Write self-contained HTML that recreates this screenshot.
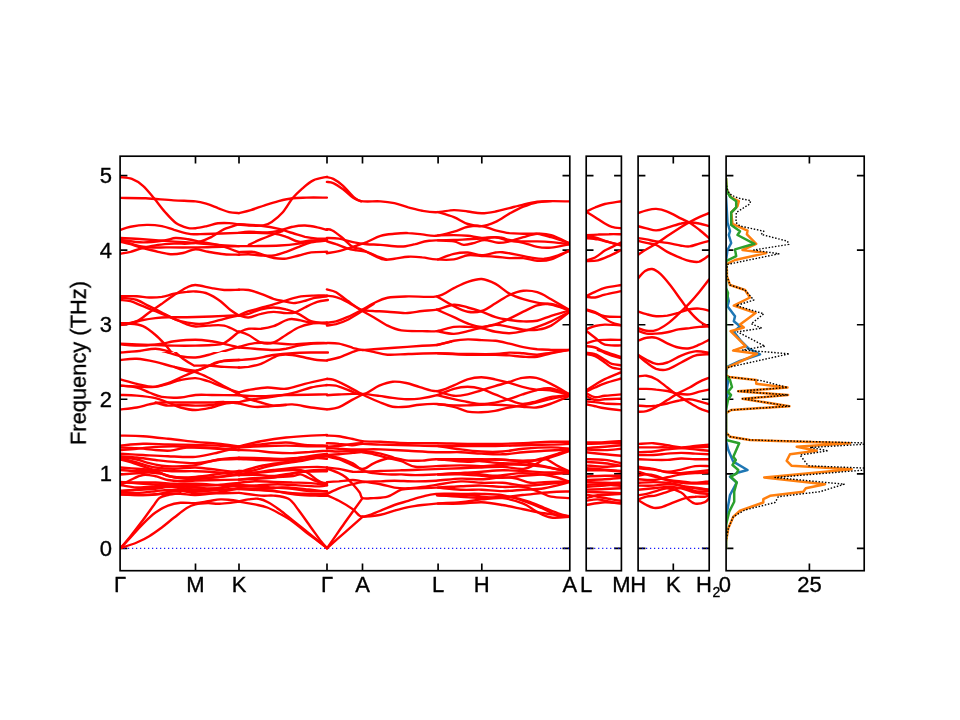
<!DOCTYPE html><html><head><meta charset="utf-8"><style>html,body{margin:0;padding:0;background:#fff;}svg{display:block;}text{font-family:"Liberation Sans",sans-serif;fill:#000;}svg text{will-change:transform;stroke:#000;stroke-width:0.35px;}</style></head><body>
<svg width="960" height="720" viewBox="0 0 960 720">
<rect width="960" height="720" fill="#fff"/>
<defs>
<clipPath id="p0"><rect x="120.1" y="156.2" width="449.7" height="414.5"/></clipPath>
<clipPath id="p1"><rect x="586.2" y="156.2" width="35.2" height="414.5"/></clipPath>
<clipPath id="p2"><rect x="638.1" y="156.2" width="71.1" height="414.5"/></clipPath>
<clipPath id="p3"><rect x="726.1" y="156.2" width="138.1" height="414.5"/></clipPath>
<clipPath id="cl"><rect x="120.1" y="156.2" width="324.9" height="414.5"/></clipPath>
<clipPath id="cr"><rect x="445.0" y="156.2" width="124.8" height="414.5"/></clipPath>
<clipPath id="r6"><rect x="120.1" y="156.2" width="449.7" height="195.8"/></clipPath>
<clipPath id="r7"><rect x="120.1" y="352.0" width="449.7" height="218.7"/></clipPath>
</defs>
<g stroke="#000" stroke-width="1.67"><path d="M120.10 548.40H127.40M569.80 548.40H562.50"/><path d="M120.10 473.84H127.40M569.80 473.84H562.50"/><path d="M120.10 399.28H127.40M569.80 399.28H562.50"/><path d="M120.10 324.72H127.40M569.80 324.72H562.50"/><path d="M120.10 250.16H127.40M569.80 250.16H562.50"/><path d="M120.10 175.60H127.40M569.80 175.60H562.50"/><path d="M586.20 548.40H593.50M621.40 548.40H614.10"/><path d="M586.20 473.84H593.50M621.40 473.84H614.10"/><path d="M586.20 399.28H593.50M621.40 399.28H614.10"/><path d="M586.20 324.72H593.50M621.40 324.72H614.10"/><path d="M586.20 250.16H593.50M621.40 250.16H614.10"/><path d="M586.20 175.60H593.50M621.40 175.60H614.10"/><path d="M638.10 548.40H645.40M709.20 548.40H701.90"/><path d="M638.10 473.84H645.40M709.20 473.84H701.90"/><path d="M638.10 399.28H645.40M709.20 399.28H701.90"/><path d="M638.10 324.72H645.40M709.20 324.72H701.90"/><path d="M638.10 250.16H645.40M709.20 250.16H701.90"/><path d="M638.10 175.60H645.40M709.20 175.60H701.90"/><path d="M726.10 548.40H733.40M864.20 548.40H856.90"/><path d="M726.10 473.84H733.40M864.20 473.84H856.90"/><path d="M726.10 399.28H733.40M864.20 399.28H856.90"/><path d="M726.10 324.72H733.40M864.20 324.72H856.90"/><path d="M726.10 250.16H733.40M864.20 250.16H856.90"/><path d="M726.10 175.60H733.40M864.20 175.60H856.90"/><path d="M195.50 156.20V163.50M195.50 570.70V563.40"/><path d="M239.00 156.20V163.50M239.00 570.70V563.40"/><path d="M327.00 156.20V163.50M327.00 570.70V563.40"/><path d="M362.50 156.20V163.50M362.50 570.70V563.40"/><path d="M438.10 156.20V163.50M438.10 570.70V563.40"/><path d="M481.80 156.20V163.50M481.80 570.70V563.40"/><path d="M673.30 156.20V163.50M673.30 570.70V563.40"/><path d="M809.40 156.20V163.50M809.40 570.70V563.40"/></g>
<line x1="120.1" y1="548.4" x2="569.8" y2="548.4" stroke="#0000ff" stroke-width="1.1" stroke-dasharray="1.1 2.9"/>
<line x1="586.2" y1="548.4" x2="621.4" y2="548.4" stroke="#0000ff" stroke-width="1.1" stroke-dasharray="1.1 2.9"/>
<line x1="638.1" y1="548.4" x2="709.2" y2="548.4" stroke="#0000ff" stroke-width="1.1" stroke-dasharray="1.1 2.9"/>
<g fill="none" stroke="#ff0000" stroke-width="2.40" stroke-linecap="round" stroke-linejoin="round">
<g clip-path="url(#p0)">
<path d="M120.1 177.2C122.1 177.5 128.1 177.5 131.9 178.9C135.7 180.3 139.3 182.6 143.0 185.8C146.7 189.1 150.4 193.9 154.1 198.3C157.8 202.7 161.5 208.1 165.2 212.2C168.9 216.4 172.6 220.7 176.3 223.3C180.0 225.9 184.2 227.0 187.4 227.8C190.6 228.6 192.3 228.5 195.5 228.2C198.7 227.9 203.1 226.9 206.9 226.1C210.6 225.3 214.3 223.8 218.0 223.3C221.7 222.8 225.6 222.9 229.1 223.1C232.6 223.3 237.4 224.3 239.0 224.5"/><path d="M120.1 197.9C124.4 198.0 136.9 197.9 145.8 198.3C154.7 198.8 165.3 199.9 173.6 200.4C181.8 200.9 189.9 200.8 195.5 201.4C201.1 202.0 203.1 202.8 206.9 203.9C210.6 205.0 214.3 206.7 218.0 208.1C221.7 209.4 225.6 211.4 229.1 212.2C232.6 213.1 237.4 213.0 239.0 213.1"/>
</g>
<g clip-path="url(#p0)">
<path d="M120.5 229.9C122.2 229.4 126.1 227.6 130.5 226.8C134.9 225.9 141.5 225.0 146.8 224.9C152.0 224.8 157.2 225.3 161.8 226.1C166.3 227.0 169.9 228.6 174.2 229.9C178.6 231.1 184.5 232.9 188.0 233.6C191.5 234.4 192.6 234.2 195.5 234.2C198.4 234.3 198.2 234.2 205.5 234.0C212.8 233.8 233.4 233.1 239.0 232.9"/><path d="M120.5 253.6C122.2 253.3 126.8 252.7 130.5 251.8C134.2 250.8 138.4 249.1 143.0 248.0C147.6 246.9 152.8 245.6 158.0 244.9C163.2 244.1 169.2 243.8 174.2 243.6C179.2 243.4 183.8 243.9 188.0 243.6C192.2 243.3 195.3 242.9 199.2 241.8C203.2 240.6 207.6 238.8 211.8 236.8C215.9 234.7 219.7 231.3 224.2 229.2C228.8 227.2 236.5 225.1 239.0 224.2"/><path d="M120.5 238.0C124.2 238.2 135.1 238.7 143.0 239.2C150.9 239.8 159.2 240.5 168.0 241.1C176.8 241.8 187.2 242.4 195.5 243.0C203.8 243.6 210.8 244.4 218.0 244.9C225.2 245.4 235.5 245.9 239.0 246.1"/><path d="M120.5 239.9C124.2 240.3 135.7 242.3 143.0 242.4C150.3 242.5 158.8 241.2 164.2 240.5C169.7 239.8 171.5 238.2 175.5 238.0C179.5 237.8 183.8 238.6 188.0 239.2C192.2 239.9 195.5 240.8 200.5 241.8C205.5 242.7 211.6 243.1 218.0 244.9C224.4 246.6 235.5 251.0 239.0 252.2"/><path d="M120.5 241.8C122.2 242.2 126.8 243.2 130.5 244.2C134.2 245.3 138.4 246.8 143.0 248.0C147.6 249.2 153.4 250.7 158.0 251.8C162.6 252.8 166.3 254.0 170.5 254.2C174.7 254.5 178.8 253.8 183.0 253.0C187.2 252.2 191.3 249.5 195.5 249.2C199.7 249.0 203.2 250.9 208.0 251.8C212.8 252.6 219.1 253.8 224.2 254.2C229.4 254.7 236.5 254.6 239.0 254.7"/><path d="M120.5 240.5C124.2 241.5 135.1 245.6 143.0 246.8C150.9 247.9 159.2 247.3 168.0 247.4C176.8 247.5 183.7 247.6 195.5 247.4C207.3 247.2 231.8 246.3 239.0 246.1"/>
</g>
<g clip-path="url(#p0)">
<path d="M239.0 213.1C241.0 212.6 246.5 211.4 250.8 210.1C255.1 208.8 260.1 206.8 264.7 205.3C269.4 203.8 274.0 202.3 278.6 201.1C283.2 200.0 287.9 198.9 292.5 198.3C297.1 197.8 300.6 197.8 306.4 197.6C312.1 197.5 323.5 197.6 326.9 197.6"/><path d="M239.0 224.5C241.0 224.7 246.8 225.4 250.8 225.6C254.9 225.7 259.9 226.0 263.3 225.4C266.8 224.8 268.4 224.1 271.7 221.9C274.9 219.7 279.3 216.2 282.8 212.2C286.2 208.3 289.3 202.3 292.5 198.3C295.7 194.4 298.8 191.6 302.2 188.6C305.7 185.6 309.2 182.2 313.3 180.3C317.5 178.3 324.7 177.4 326.9 176.8"/>
</g>
<g clip-path="url(#p0)">
<path d="M239.0 224.2C242.7 224.5 254.4 224.9 261.2 225.8C268.1 226.6 274.8 228.0 280.0 229.2C285.2 230.5 288.3 231.8 292.5 233.0C296.7 234.2 300.8 235.8 305.0 236.8C309.2 237.7 313.8 238.3 317.5 238.6C321.2 238.9 325.4 238.6 327.0 238.6"/><path d="M239.0 232.9C240.6 232.7 244.0 231.8 248.8 231.8C253.5 231.7 262.3 232.6 267.5 232.4C272.7 232.2 275.8 231.4 280.0 230.5C284.2 229.6 288.3 227.6 292.5 226.8C296.7 225.9 300.8 225.4 305.0 225.5C309.2 225.6 313.8 226.6 317.5 227.4C321.2 228.1 325.4 229.5 327.0 229.9"/><path d="M239.0 232.9C241.7 232.9 249.2 232.6 255.0 232.8C260.8 232.9 268.5 233.0 273.8 233.6C279.0 234.3 282.1 235.4 286.2 236.8C290.4 238.1 294.6 241.1 298.8 241.8C302.9 242.4 306.5 240.8 311.2 240.5C316.0 240.2 324.4 240.0 327.0 239.9"/><path d="M248.8 244.9C250.8 243.9 257.1 241.0 261.2 239.2C265.4 237.5 270.2 235.6 273.8 234.2C277.3 232.9 281.0 231.6 282.5 231.1"/><path d="M239.0 246.1C241.7 246.1 248.2 246.2 255.0 246.1C261.8 246.0 272.7 245.9 280.0 245.5C287.3 245.1 292.5 244.5 298.8 243.6C305.0 242.8 312.8 241.1 317.5 240.5C322.2 239.9 325.4 240.0 327.0 239.9"/><path d="M239.0 252.2C241.2 252.1 248.8 251.4 252.5 251.8C256.2 252.1 257.7 253.2 261.2 254.2C264.8 255.3 269.6 257.3 273.8 258.0C277.9 258.7 282.1 259.0 286.2 258.6C290.4 258.2 294.6 256.5 298.8 255.5C302.9 254.5 306.5 253.0 311.2 252.4C316.0 251.8 324.4 251.9 327.0 251.8"/><path d="M239.0 254.7C240.6 254.6 245.0 254.1 248.8 254.2C252.5 254.4 257.1 255.3 261.2 255.5C265.4 255.7 269.6 256.1 273.8 255.5C277.9 254.9 282.1 253.2 286.2 251.8C290.4 250.3 294.6 248.3 298.8 246.8C302.9 245.2 306.5 243.4 311.2 242.4C316.0 241.3 324.4 240.8 327.0 240.5"/>
</g>
<g clip-path="url(#r6)">
<path d="M120.5 325.0C123.2 324.4 132.0 323.3 136.8 321.2C141.5 319.2 145.1 315.4 149.2 312.5C153.4 309.6 157.6 306.7 161.8 303.8C165.9 300.8 170.1 297.7 174.2 295.0C178.4 292.3 183.2 289.2 186.8 287.5C190.3 285.8 191.3 284.9 195.5 285.0C199.7 285.1 207.0 287.3 211.8 288.1C216.5 289.0 219.7 289.7 224.2 290.0C228.8 290.3 236.5 289.7 239.0 289.7"/><path d="M120.5 296.2C123.2 296.2 132.0 296.0 136.8 296.2C141.5 296.5 145.1 297.4 149.2 297.5C153.4 297.6 157.6 297.5 161.8 296.9C165.9 296.2 170.1 294.6 174.2 293.8C178.4 292.9 183.2 292.2 186.8 291.9C190.3 291.5 192.0 291.2 195.5 291.5C199.0 291.8 203.8 292.1 208.0 293.8C212.2 295.4 216.8 298.5 220.5 301.2C224.2 304.0 227.4 307.6 230.5 310.0C233.6 312.4 237.6 314.7 239.0 315.6"/><path d="M120.5 300.0C122.2 300.2 126.8 300.2 130.5 301.2C134.2 302.3 138.8 304.6 143.0 306.2C147.2 307.9 151.3 309.6 155.5 311.2C159.7 312.9 163.8 314.6 168.0 316.2C172.2 317.9 175.9 320.0 180.5 321.2C185.1 322.5 190.9 323.4 195.5 323.8C200.1 324.1 203.2 324.0 208.0 323.1C212.8 322.3 219.1 320.1 224.2 318.8C229.4 317.4 236.5 315.9 239.0 315.3"/><path d="M120.5 297.5C123.2 297.9 132.0 298.5 136.8 300.0C141.5 301.5 145.1 304.2 149.2 306.2C153.4 308.3 157.6 310.4 161.8 312.5C165.9 314.6 170.1 316.8 174.2 318.8C178.4 320.7 183.2 323.1 186.8 324.4C190.3 325.7 192.0 326.3 195.5 326.5C199.0 326.7 203.2 325.8 208.0 325.6C212.8 325.5 219.1 324.5 224.2 325.6C229.4 326.7 236.5 331.1 239.0 332.2"/><path d="M120.5 323.1C122.2 323.1 126.8 323.6 130.5 323.1C134.2 322.6 138.8 320.8 143.0 320.0C147.2 319.2 151.3 318.6 155.5 318.1C159.7 317.7 163.8 317.4 168.0 317.2C172.2 317.1 175.9 317.3 180.5 317.2C185.1 317.2 190.3 317.1 195.5 317.0C200.7 316.9 204.5 316.8 211.8 316.5C219.0 316.2 234.5 315.4 239.0 315.2"/><path d="M120.5 325.0C122.2 324.8 126.8 323.5 130.5 323.8C134.2 324.0 138.8 324.4 143.0 326.2C147.2 328.1 151.8 331.9 155.5 335.0C159.2 338.1 162.4 341.7 165.5 345.0C168.6 348.3 170.7 351.9 174.2 355.0C177.8 358.1 183.2 361.9 186.8 363.8C190.3 365.6 191.3 365.8 195.5 366.2C199.7 366.7 204.5 366.0 211.8 366.2C219.0 366.5 234.5 367.3 239.0 367.5"/><path d="M120.5 343.8C123.2 343.9 130.9 344.2 136.8 344.4C142.6 344.6 149.2 344.8 155.5 345.0C161.8 345.2 167.6 345.5 174.2 345.6C180.9 345.7 189.2 345.7 195.5 345.6C201.8 345.5 207.0 345.4 211.8 345.0C216.5 344.6 219.7 345.4 224.2 343.1C228.8 340.9 236.5 333.5 239.0 331.6"/><path d="M120.5 344.4C124.2 344.6 136.1 345.7 143.0 345.6C149.9 345.5 156.5 344.5 161.8 343.8C167.0 343.0 168.6 341.9 174.2 341.2C179.9 340.6 189.2 339.8 195.5 339.8C201.8 339.8 207.0 340.6 211.8 341.2C216.5 341.9 219.7 342.7 224.2 343.8C228.8 344.8 236.5 346.9 239.0 347.5"/><path d="M120.5 352.5C123.2 352.3 130.9 351.9 136.8 351.2C142.6 350.6 150.3 348.8 155.5 348.8C160.7 348.8 163.8 350.2 168.0 351.2C172.2 352.3 175.9 354.0 180.5 355.0C185.1 356.0 190.3 357.5 195.5 357.5C200.7 357.5 207.0 356.0 211.8 355.0C216.5 354.0 219.7 352.6 224.2 351.2C228.8 349.9 236.5 347.6 239.0 346.9"/><path d="M120.5 360.0C123.2 359.8 130.9 358.5 136.8 358.8C142.6 359.0 150.3 360.4 155.5 361.2C160.7 362.1 163.8 362.7 168.0 363.8C172.2 364.8 175.9 366.4 180.5 367.5C185.1 368.6 190.3 370.0 195.5 370.6C200.7 371.2 204.7 370.9 211.8 371.2C218.8 371.6 233.6 372.3 238.0 372.5"/><path d="M195.5 371.2C197.2 370.4 201.8 367.9 205.5 366.2C209.2 364.6 212.4 362.3 218.0 361.2C223.6 360.2 235.5 360.2 239.0 360.0"/>
</g>
<g clip-path="url(#r7)">
<path d="M120.5 352.5C123.2 352.3 130.9 351.7 136.8 351.2C142.6 350.8 150.3 349.8 155.5 350.0C160.7 350.2 163.8 351.5 168.0 352.5C172.2 353.5 175.9 355.4 180.5 356.2C185.1 357.1 190.9 357.7 195.5 357.5C200.1 357.3 203.2 356.2 208.0 355.0C212.8 353.8 219.1 351.2 224.2 350.0C229.4 348.8 236.5 347.9 239.0 347.5"/><path d="M120.5 360.0C123.2 359.8 130.9 358.4 136.8 358.8C142.6 359.1 149.2 360.5 155.5 361.9C161.8 363.2 167.6 365.4 174.2 366.9C180.9 368.3 189.9 370.7 195.5 370.6C201.1 370.5 204.2 367.7 208.0 366.2C211.8 364.8 212.8 362.9 218.0 361.9C223.2 360.8 235.5 360.3 239.0 360.0"/><path d="M160.5 340.0C161.8 340.2 164.7 341.1 168.0 341.2C171.3 341.4 175.9 340.8 180.5 340.6C185.1 340.4 190.3 340.0 195.5 340.0C200.7 340.0 206.3 340.5 211.8 340.6C217.2 340.7 225.3 340.6 228.0 340.6"/><path d="M120.5 379.4C123.2 380.1 131.3 382.5 136.8 383.8C142.2 385.0 147.8 387.0 153.0 386.9C158.2 386.8 163.4 384.7 168.0 383.1C172.6 381.6 175.9 379.5 180.5 377.5C185.1 375.5 190.9 373.1 195.5 371.2C200.1 369.4 203.2 368.0 208.0 366.2C212.8 364.5 219.1 361.7 224.2 360.6C229.4 359.6 236.5 360.1 239.0 360.0"/><path d="M120.5 385.6C123.2 385.9 132.0 386.4 136.8 387.5C141.5 388.6 145.1 390.9 149.2 392.5C153.4 394.1 156.5 396.0 161.8 396.9C167.0 397.7 174.9 397.8 180.5 397.5C186.1 397.2 190.3 395.4 195.5 395.0C200.7 394.6 204.5 394.9 211.8 395.0C219.0 395.1 234.5 395.3 239.0 395.3"/><path d="M120.5 395.0C123.2 395.1 130.9 395.1 136.8 395.6C142.6 396.1 150.3 397.0 155.5 398.1C160.7 399.3 163.8 400.9 168.0 402.5C172.2 404.1 175.9 406.2 180.5 407.5C185.1 408.8 190.3 410.0 195.5 410.0C200.7 410.0 207.0 408.5 211.8 407.5C216.5 406.5 219.7 404.6 224.2 403.8C228.8 402.9 236.5 402.4 239.0 402.2"/><path d="M120.5 409.4C123.2 409.1 132.0 408.3 136.8 407.5C141.5 406.7 145.1 405.2 149.2 404.4C153.4 403.5 156.5 402.8 161.8 402.5C167.0 402.2 174.9 402.5 180.5 402.5C186.1 402.5 190.3 402.5 195.5 402.5C200.7 402.5 207.0 402.6 211.8 402.5C216.5 402.4 219.7 401.7 224.2 401.9C228.8 402.0 236.5 403.2 239.0 403.4"/><path d="M120.5 385.6C123.2 385.8 130.9 386.3 136.8 386.5C142.6 386.7 150.3 387.3 155.5 386.9C160.7 386.4 163.8 384.9 168.0 383.8C172.2 382.6 175.9 380.9 180.5 380.0C185.1 379.1 190.9 377.9 195.5 378.1C200.1 378.3 203.2 379.7 208.0 381.2C212.8 382.8 219.1 385.6 224.2 387.5C229.4 389.4 236.5 391.7 239.0 392.5"/><path d="M174.2 366.9C175.3 367.3 178.2 368.6 180.5 369.4C182.8 370.1 185.5 370.8 188.0 371.2C190.5 371.7 192.2 371.2 195.5 372.2C198.8 373.3 203.2 375.2 208.0 377.5C212.8 379.8 219.1 383.4 224.2 386.2C229.4 389.1 236.5 393.0 239.0 394.4"/><path d="M161.8 340.0C162.8 340.8 165.9 343.1 168.0 345.0C170.1 346.9 171.8 349.0 174.2 351.2C176.8 353.5 179.9 356.5 183.0 358.8C186.1 361.0 190.9 363.9 193.0 365.0C195.1 366.1 193.0 365.5 195.5 365.6C198.0 365.7 203.2 365.4 208.0 365.6C212.8 365.8 219.1 366.6 224.2 366.9C229.4 367.2 236.5 367.4 239.0 367.5"/><path d="M155.5 402.5C157.6 403.0 163.8 405.2 168.0 405.6C172.2 406.0 175.9 405.0 180.5 405.0C185.1 405.0 190.3 405.6 195.5 405.6C200.7 405.6 207.0 405.5 211.8 405.0C216.5 404.5 219.7 403.0 224.2 402.5C228.8 402.0 236.5 402.2 239.0 402.2"/>
</g>
<g clip-path="url(#p0)">
<path d="M120.5 435.6C124.2 435.7 135.1 435.7 143.0 436.2C150.9 436.8 159.2 437.8 168.0 438.8C176.8 439.7 187.2 441.0 195.5 441.9C203.8 442.7 210.8 443.0 218.0 443.8C225.2 444.5 235.5 446.0 239.0 446.4"/><path d="M120.5 445.6C124.2 445.3 135.1 444.0 143.0 443.8C150.9 443.5 159.2 444.2 168.0 444.4C176.8 444.6 187.2 444.8 195.5 445.0C203.8 445.2 210.8 445.2 218.0 445.6C225.2 446.0 235.5 447.2 239.0 447.5"/><path d="M120.5 447.5C123.2 447.6 130.9 447.7 136.8 448.1C142.6 448.5 149.9 449.6 155.5 450.0C161.1 450.4 165.3 451.0 170.5 450.6C175.7 450.2 180.9 448.0 186.8 447.5C192.6 447.0 196.8 447.1 205.5 447.5C214.2 447.9 233.4 449.6 239.0 450.0"/><path d="M120.5 450.0C123.2 449.8 130.9 449.3 136.8 448.8C142.6 448.2 149.2 447.3 155.5 446.9C161.8 446.5 167.6 446.1 174.2 446.2C180.9 446.4 188.2 447.1 195.5 447.5C202.8 447.9 210.8 448.3 218.0 448.8C225.2 449.2 235.5 449.8 239.0 450.0"/><path d="M120.5 453.8C124.2 454.0 135.1 454.6 143.0 455.0C150.9 455.4 159.2 455.9 168.0 456.2C176.8 456.6 187.2 457.5 195.5 456.9C203.8 456.2 210.8 454.2 218.0 452.5C225.2 450.8 235.5 447.8 239.0 446.9"/><path d="M120.5 456.2C123.2 456.5 130.9 456.9 136.8 457.5C142.6 458.1 149.2 459.3 155.5 460.0C161.8 460.7 167.6 461.4 174.2 461.9C180.9 462.4 188.2 463.4 195.5 463.1C202.8 462.8 210.8 460.7 218.0 460.0C225.2 459.3 235.5 459.2 239.0 459.1"/><path d="M120.5 458.1C123.2 458.9 130.9 460.9 136.8 462.5C142.6 464.1 149.2 466.5 155.5 467.5C161.8 468.5 167.6 468.8 174.2 468.8C180.9 468.8 188.2 467.3 195.5 467.5C202.8 467.7 210.8 469.2 218.0 470.0C225.2 470.8 235.5 472.1 239.0 472.5"/><path d="M120.5 467.5C123.2 467.7 130.9 468.3 136.8 468.8C142.6 469.2 149.2 469.6 155.5 470.0C161.8 470.4 167.6 471.0 174.2 471.2C180.9 471.5 188.2 471.0 195.5 471.2C202.8 471.5 210.8 471.8 218.0 472.5C225.2 473.2 235.5 474.7 239.0 475.2"/><path d="M120.5 470.0C123.2 470.2 130.9 471.0 136.8 471.2C142.6 471.5 150.3 470.4 155.5 471.2C160.7 472.1 163.8 475.2 168.0 476.2C172.2 477.3 175.9 477.4 180.5 477.5C185.1 477.6 190.3 477.3 195.5 476.9C200.7 476.5 204.5 476.0 211.8 475.0C219.0 474.0 234.5 471.6 239.0 470.9"/><path d="M120.5 485.0C122.2 484.2 126.8 481.7 130.5 480.0C134.2 478.3 138.8 475.6 143.0 475.0C147.2 474.4 151.3 475.4 155.5 476.2C159.7 477.1 163.8 479.2 168.0 480.0C172.2 480.8 175.9 481.1 180.5 481.2C185.1 481.4 189.2 480.8 195.5 480.6C201.8 480.4 210.8 480.2 218.0 480.0C225.2 479.8 235.5 479.6 239.0 479.6"/><path d="M120.5 482.5C123.2 482.5 130.9 482.5 136.8 482.5C142.6 482.5 149.2 482.3 155.5 482.5C161.8 482.7 167.6 483.5 174.2 483.8C180.9 484.0 188.2 483.5 195.5 483.8C202.8 484.0 210.8 484.6 218.0 485.0C225.2 485.4 235.5 486.1 239.0 486.3"/><path d="M120.5 485.0C123.2 485.4 130.9 487.3 136.8 487.5C142.6 487.7 150.3 486.7 155.5 486.2C160.7 485.8 163.8 484.8 168.0 485.0C172.2 485.2 175.9 486.7 180.5 487.5C185.1 488.3 190.3 489.6 195.5 490.0C200.7 490.4 204.5 490.1 211.8 490.0C219.0 489.9 234.5 489.3 239.0 489.1"/><path d="M120.5 491.2C123.2 491.0 130.9 490.4 136.8 490.0C142.6 489.6 150.3 489.3 155.5 488.8C160.7 488.2 163.8 487.3 168.0 486.9C172.2 486.5 175.9 486.1 180.5 486.2C185.1 486.4 189.2 487.2 195.5 487.5C201.8 487.8 210.8 488.9 218.0 488.1C225.2 487.4 235.5 483.8 239.0 482.9"/><path d="M120.5 494.4C124.2 494.5 136.1 495.1 143.0 495.0C149.9 494.9 155.5 494.0 161.8 493.8C168.0 493.5 174.9 493.5 180.5 493.8C186.1 494.0 189.2 495.2 195.5 495.0C201.8 494.8 210.8 493.6 218.0 492.5C225.2 491.4 235.5 489.0 239.0 488.3"/><path d="M120.5 492.5C123.2 492.6 130.9 493.3 136.8 493.1C142.6 492.9 150.3 491.8 155.5 491.2C160.7 490.7 163.8 490.2 168.0 490.0C172.2 489.8 175.9 489.8 180.5 490.0C185.1 490.2 189.2 491.2 195.5 491.2C201.8 491.2 210.8 490.5 218.0 490.0C225.2 489.5 235.5 488.4 239.0 488.1"/><path d="M120.5 457.0C123.2 457.4 132.0 458.5 136.8 459.5C141.5 460.5 145.1 462.2 149.2 463.2C153.4 464.3 157.6 465.2 161.8 465.8C165.9 466.3 168.6 466.5 174.2 466.4C179.9 466.3 188.2 466.3 195.5 465.1C202.8 464.0 210.8 460.8 218.0 459.5C225.2 458.2 235.5 457.9 239.0 457.6"/><path d="M120.5 459.5C122.2 459.9 126.8 460.9 130.5 462.0C134.2 463.1 138.8 464.9 143.0 466.4C147.2 467.8 151.3 469.2 155.5 470.8C159.7 472.3 163.8 474.5 168.0 475.8C172.2 477.0 175.9 477.7 180.5 478.2C185.1 478.8 189.2 479.1 195.5 478.9C201.8 478.7 210.8 477.8 218.0 477.0C225.2 476.2 235.5 474.3 239.0 473.8"/><path d="M120.5 474.5C123.2 474.3 132.0 473.6 136.8 473.2C141.5 472.9 145.1 472.5 149.2 472.6C153.4 472.7 157.6 473.1 161.8 473.9C165.9 474.6 168.6 476.3 174.2 477.0C179.9 477.7 188.2 478.2 195.5 478.2C202.8 478.2 210.8 477.6 218.0 477.0C225.2 476.4 235.5 475.1 239.0 474.8"/><path d="M120.5 482.0C123.2 482.2 130.9 482.8 136.8 483.2C142.6 483.7 149.2 484.1 155.5 484.5C161.8 484.9 167.6 485.5 174.2 485.8C180.9 486.0 188.2 485.9 195.5 485.8C202.8 485.6 210.8 485.6 218.0 485.1C225.2 484.6 235.5 483.2 239.0 482.9"/><path d="M120.5 494.5C123.2 494.6 130.9 495.1 136.8 495.1C142.6 495.1 150.3 495.0 155.5 494.5C160.7 494.0 163.8 492.6 168.0 492.0C172.2 491.4 175.9 490.5 180.5 490.8C185.1 491.0 189.2 492.8 195.5 493.2C201.8 493.7 210.8 493.3 218.0 493.2C225.2 493.2 235.5 492.9 239.0 492.9"/><path d="M120.5 490.8C123.2 490.5 130.9 490.1 136.8 489.5C142.6 488.9 150.3 487.5 155.5 487.0C160.7 486.5 163.8 486.2 168.0 486.4C172.2 486.6 175.9 487.7 180.5 488.2C185.1 488.8 189.2 489.5 195.5 489.5C201.8 489.5 210.8 489.0 218.0 488.2C225.2 487.5 235.5 485.3 239.0 484.8"/>
</g>
<g clip-path="url(#p0)">
<path d="M120.5 548.1C122.2 546.1 126.8 540.9 130.5 536.2C134.2 531.6 139.2 525.0 143.0 520.0C146.8 515.0 150.3 509.9 153.0 506.2C155.7 502.6 156.8 500.0 159.2 498.1C161.8 496.2 164.5 495.8 168.0 495.0C171.5 494.2 178.4 493.4 180.5 493.1"/><path d="M120.5 548.1C122.2 546.4 126.8 541.6 130.5 537.5C134.2 533.4 138.8 527.9 143.0 523.8C147.2 519.6 151.3 515.5 155.5 512.5C159.7 509.5 163.8 507.2 168.0 505.6C172.2 504.0 175.9 503.2 180.5 502.8C185.1 502.3 190.9 503.4 195.5 503.1C200.1 502.9 203.8 501.9 208.0 501.2C212.2 500.6 216.8 499.6 220.5 499.4C224.2 499.2 227.4 499.7 230.5 500.0C233.6 500.3 237.6 501.0 239.0 501.2"/><path d="M120.5 548.1C123.2 547.2 132.0 544.5 136.8 542.5C141.5 540.5 145.1 538.8 149.2 536.2C153.4 533.8 157.6 530.6 161.8 527.5C165.9 524.4 170.1 520.7 174.2 517.5C178.4 514.3 183.2 510.3 186.8 508.1C190.3 505.9 192.0 505.2 195.5 504.4C199.0 503.5 204.2 503.2 208.0 503.1C211.8 503.0 214.2 503.8 218.0 503.8C221.8 503.7 227.0 503.1 230.5 502.8C234.0 502.4 237.6 501.8 239.0 501.6"/>
</g>
<g clip-path="url(#p0)">
<path d="M239.0 289.7C240.6 289.7 244.8 289.3 248.5 290.0C252.2 290.7 256.8 292.3 261.0 293.8C265.2 295.2 269.8 297.5 273.5 298.8C277.2 300.0 280.2 300.5 283.5 301.2C286.8 302.0 290.2 303.1 293.5 303.1C296.8 303.1 300.2 302.1 303.5 301.2C306.8 300.4 309.6 299.0 313.5 298.1C317.4 297.3 324.8 296.6 327.0 296.2"/><path d="M239.0 315.2C240.6 314.5 243.8 312.7 248.5 311.2C253.2 309.8 261.4 307.9 267.2 306.2C273.1 304.6 278.3 302.8 283.5 301.2C288.7 299.7 293.5 297.8 298.5 296.9C303.5 295.9 308.8 295.8 313.5 295.6C318.2 295.4 324.8 295.6 327.0 295.6"/><path d="M239.0 315.3C240.6 315.7 244.8 317.8 248.5 317.5C252.2 317.2 256.8 314.7 261.0 313.8C265.2 312.8 269.3 312.0 273.5 311.9C277.7 311.8 282.5 313.0 286.0 313.1C289.5 313.2 291.6 313.4 294.8 312.5C297.9 311.6 301.0 309.3 304.8 307.5C308.5 305.7 313.4 303.1 317.2 301.9C321.1 300.6 326.1 300.3 327.9 300.0"/><path d="M239.0 315.6C240.6 315.3 244.8 314.8 248.5 313.8C252.2 312.7 256.8 310.4 261.0 309.4C265.2 308.3 269.3 307.5 273.5 307.5C277.7 307.5 281.8 308.3 286.0 309.4C290.2 310.4 294.3 311.8 298.5 313.8C302.7 315.7 306.2 319.6 311.0 321.2C315.8 322.9 324.3 323.3 327.0 323.8"/><path d="M239.0 332.2C240.6 331.6 244.8 329.3 248.5 328.8C252.2 328.2 256.8 329.2 261.0 328.8C265.2 328.3 268.9 327.8 273.5 326.2C278.1 324.7 284.3 320.4 288.5 319.4C292.7 318.3 294.8 319.5 298.5 320.0C302.2 320.5 306.2 322.0 311.0 322.5C315.8 323.0 324.3 323.0 327.0 323.1"/><path d="M239.0 331.6C240.6 332.1 244.8 333.2 248.5 335.0C252.2 336.8 256.8 341.2 261.0 342.5C265.2 343.8 269.3 343.8 273.5 342.5C277.7 341.2 281.8 337.5 286.0 335.0C290.2 332.5 294.3 329.4 298.5 327.5C302.7 325.6 306.2 324.6 311.0 323.8C315.8 322.9 324.3 322.7 327.0 322.5"/><path d="M239.0 346.9C241.6 346.2 249.0 343.8 254.8 343.1C260.5 342.5 267.2 342.9 273.5 343.1C279.8 343.3 286.0 344.4 292.2 344.4C298.5 344.4 305.2 343.3 311.0 343.1C316.8 342.9 324.3 343.1 327.0 343.1"/><path d="M239.0 347.5C241.6 347.7 249.0 348.3 254.8 348.8C260.5 349.2 268.3 350.0 273.5 350.0C278.7 350.0 281.8 349.5 286.0 348.8C290.2 348.0 294.3 346.5 298.5 345.6C302.7 344.8 306.2 344.2 311.0 343.8C315.8 343.3 324.3 343.2 327.0 343.1"/><path d="M239.0 360.0C241.6 359.8 249.0 359.6 254.8 358.8C260.5 357.9 267.2 355.9 273.5 355.0C279.8 354.1 286.0 353.5 292.2 353.1C298.5 352.7 305.1 352.6 311.0 352.5C316.9 352.4 325.1 352.5 327.9 352.5"/><path d="M239.0 367.5C240.6 367.4 244.8 367.5 248.5 366.9C252.2 366.2 256.8 365.3 261.0 363.8C265.2 362.2 270.4 359.0 273.5 357.5C276.6 356.0 276.6 355.4 279.8 355.0C282.9 354.6 288.1 354.6 292.2 355.0C296.4 355.4 300.6 356.7 304.8 357.5C308.9 358.3 313.5 359.5 317.2 360.0C321.0 360.5 325.4 360.5 327.0 360.6"/>
</g>
<g clip-path="url(#p0)">
<path d="M239.0 392.5C240.6 392.1 243.8 390.8 248.5 390.0C253.2 389.2 261.0 387.7 267.2 387.5C273.5 387.3 279.8 389.4 286.0 388.8C292.2 388.1 297.9 385.4 304.8 383.8C311.6 382.1 323.3 379.6 327.0 378.8"/><path d="M239.0 395.3C242.7 395.5 253.2 396.3 261.0 396.2C268.8 396.2 275.0 395.3 286.0 395.0C297.0 394.7 320.2 394.5 327.0 394.4"/><path d="M239.0 402.2C240.6 401.8 243.8 400.8 248.5 400.0C253.2 399.2 260.0 398.6 267.2 397.5C274.5 396.4 285.0 394.8 292.2 393.1C299.5 391.5 305.2 388.9 311.0 387.5C316.8 386.1 324.3 385.4 327.0 385.0"/><path d="M239.0 394.4C240.6 395.1 244.8 397.4 248.5 398.8C252.2 400.1 256.8 401.4 261.0 402.5C265.2 403.6 268.3 405.3 273.5 405.6C278.7 405.9 286.0 404.1 292.2 404.4C298.5 404.7 305.2 406.7 311.0 407.5C316.8 408.3 324.3 409.1 327.0 409.4"/><path d="M239.0 403.4C241.6 404.0 249.6 406.4 254.8 406.9C259.9 407.3 264.5 406.6 269.8 406.2C275.0 405.9 283.3 405.2 286.0 405.0"/>
</g>
<g clip-path="url(#p0)">
<path d="M239.0 446.4C242.7 445.6 253.2 442.7 261.0 441.2C268.8 439.8 277.7 438.4 286.0 437.5C294.3 436.6 304.2 436.0 311.0 435.6C317.8 435.2 324.3 435.1 327.0 435.0"/><path d="M239.0 446.9C242.7 446.5 253.2 445.1 261.0 444.4C268.8 443.6 278.7 442.4 286.0 442.5C293.3 442.6 297.9 444.5 304.8 445.0C311.6 445.5 323.3 445.5 327.0 445.6"/><path d="M239.0 447.5C242.7 447.3 253.2 446.6 261.0 446.2C268.8 445.9 277.7 445.6 286.0 445.6C294.3 445.6 304.2 446.1 311.0 446.2C317.8 446.4 324.3 446.2 327.0 446.2"/><path d="M239.0 450.0C241.6 450.1 249.0 450.2 254.8 450.6C260.5 451.0 267.2 452.1 273.5 452.5C279.8 452.9 286.0 453.2 292.2 453.1C298.5 453.0 305.2 452.3 311.0 451.9C316.8 451.5 324.3 450.8 327.0 450.6"/><path d="M239.0 457.6C242.7 457.7 253.2 457.9 261.0 458.1C268.8 458.3 277.7 459.0 286.0 458.8C294.3 458.5 304.2 457.4 311.0 456.9C317.8 456.4 324.3 455.8 327.0 455.6"/><path d="M239.0 459.1C242.7 459.2 253.2 459.8 261.0 460.0C268.8 460.2 278.7 460.5 286.0 460.0C293.3 459.5 297.9 457.9 304.8 456.9C311.6 455.8 323.3 454.3 327.0 453.8"/><path d="M239.0 472.5C241.6 471.7 249.0 469.0 254.8 467.5C260.5 466.0 267.2 464.8 273.5 463.8C279.8 462.7 287.0 462.0 292.2 461.2C297.5 460.5 300.6 459.9 304.8 459.4C308.9 458.9 313.5 458.2 317.2 458.1C321.0 458.0 325.4 458.6 327.0 458.8"/><path d="M239.0 473.8C241.6 473.6 249.0 473.1 254.8 472.5C260.5 471.9 266.2 470.8 273.5 470.0C280.8 469.2 291.2 468.0 298.5 467.5C305.8 467.0 312.5 466.9 317.2 466.9C322.0 466.9 325.4 467.4 327.0 467.5"/><path d="M239.0 474.8C241.6 474.5 249.0 473.7 254.8 473.1C260.5 472.5 267.2 471.8 273.5 471.2C279.8 470.7 287.0 470.0 292.2 470.0C297.5 470.0 300.6 469.6 304.8 471.2C308.9 472.9 313.5 477.7 317.2 480.0C321.0 482.3 325.4 484.2 327.0 485.0"/><path d="M239.0 479.6C241.6 479.4 249.0 479.1 254.8 478.8C260.5 478.4 267.2 478.3 273.5 477.5C279.8 476.7 287.0 474.8 292.2 473.8C297.5 472.7 300.6 471.9 304.8 471.2C308.9 470.6 313.5 470.2 317.2 470.0C321.0 469.8 325.4 470.0 327.0 470.0"/><path d="M239.0 482.9C241.6 482.6 249.0 481.4 254.8 481.2C260.5 481.1 267.2 481.7 273.5 481.9C279.8 482.1 286.0 482.3 292.2 482.5C298.5 482.7 305.2 482.7 311.0 483.1C316.8 483.5 324.3 484.7 327.0 485.0"/><path d="M239.0 484.8C241.6 485.0 249.0 485.8 254.8 486.2C260.5 486.7 267.2 487.1 273.5 487.5C279.8 487.9 286.0 488.1 292.2 488.8C298.5 489.4 305.2 490.8 311.0 491.2C316.8 491.7 324.3 491.2 327.0 491.2"/><path d="M239.0 488.1C242.7 488.4 253.2 489.3 261.0 490.0C268.8 490.7 278.7 491.9 286.0 492.5C293.3 493.1 297.9 493.5 304.8 493.8C311.6 494.0 323.3 493.8 327.0 493.8"/><path d="M239.0 470.9C241.1 470.9 246.9 471.5 251.6 470.8C256.3 470.0 262.0 467.8 267.2 466.6C272.5 465.4 277.7 464.4 282.9 463.5C288.1 462.6 293.3 462.2 298.5 461.4C303.7 460.5 309.4 459.1 314.1 458.2C318.9 457.4 324.9 456.5 327.0 456.1"/><path d="M239.0 475.2C242.0 475.1 251.3 474.7 256.9 474.9C262.5 475.0 267.3 476.2 272.5 476.0C277.7 475.8 282.9 474.6 288.1 473.9C293.3 473.2 297.3 472.2 303.8 471.8C310.2 471.3 323.1 471.3 327.0 471.2"/><path d="M239.0 479.6C242.0 479.3 250.4 478.4 256.9 478.0C263.3 477.6 271.6 477.3 277.6 477.0C283.7 476.7 289.4 476.4 293.2 476.0C297.1 475.6 298.0 474.0 300.6 474.4C303.2 474.7 305.8 476.7 308.9 478.0C312.0 479.3 316.4 481.4 319.4 482.2C322.4 483.1 325.7 483.1 327.0 483.2"/><path d="M239.0 486.3C242.0 486.2 250.4 485.7 256.9 485.4C263.3 485.0 270.7 484.2 277.6 484.2C284.6 484.2 291.5 485.0 298.5 485.4C305.5 485.7 314.6 486.4 319.4 486.4C324.1 486.4 325.7 485.5 327.0 485.4"/><path d="M239.0 488.3C242.0 488.3 250.4 488.6 256.9 488.5C263.3 488.4 272.4 488.1 277.6 487.9C282.8 487.7 282.9 487.1 288.1 487.4C293.3 487.6 302.4 488.8 308.9 489.5C315.4 490.2 324.0 491.3 327.0 491.6"/><path d="M239.0 489.1C242.0 489.3 251.3 489.8 256.9 490.0C262.5 490.2 268.2 490.1 272.5 490.5C276.8 490.9 278.5 491.9 282.9 492.6C287.2 493.3 292.4 494.2 298.5 494.8C304.6 495.3 314.6 495.6 319.4 495.8C324.1 495.9 325.7 495.8 327.0 495.8"/>
</g>
<g clip-path="url(#p0)">
<path d="M239.0 501.2C240.6 500.9 245.2 499.8 248.5 499.4C251.8 499.0 255.2 498.2 258.5 498.8C261.8 499.3 265.0 500.6 268.5 502.5C272.0 504.4 275.8 507.1 279.8 510.0C283.7 512.9 288.1 516.7 292.2 520.0C296.4 523.3 300.6 526.7 304.8 530.0C308.9 533.3 313.5 537.0 317.2 540.0C321.0 543.0 325.4 546.8 327.0 548.1"/><path d="M239.0 501.6C241.6 502.0 250.0 503.4 254.8 504.4C259.5 505.4 263.1 505.9 267.2 507.5C271.4 509.1 275.6 511.5 279.8 513.8C283.9 516.0 288.1 518.3 292.2 521.2C296.4 524.2 300.6 528.0 304.8 531.2C308.9 534.5 313.5 537.8 317.2 540.6C321.0 543.4 325.4 546.9 327.0 548.1"/><path d="M239.0 492.9C242.7 493.3 255.2 495.2 261.0 495.6C266.8 496.1 268.9 495.1 273.5 495.6C278.1 496.1 284.3 496.4 288.5 498.8C292.7 501.1 294.8 505.2 298.5 510.0C302.2 514.8 307.2 522.3 311.0 527.5C314.8 532.7 318.3 537.8 321.0 541.2C323.7 544.7 326.0 547.0 327.0 548.1"/>
</g>
<g clip-path="url(#p1)"><path d="M586.1 211.7C587.6 211.0 592.0 208.8 595.1 207.5C598.2 206.2 600.4 205.1 604.8 204.0C609.2 203.0 618.7 201.7 621.5 201.2"/><path d="M586.1 211.7C587.6 212.6 592.0 215.3 595.1 217.2C598.2 219.2 602.1 221.9 604.8 223.5C607.6 225.1 609.0 226.1 611.8 226.9C614.6 227.8 619.9 228.1 621.5 228.3"/><path d="M586.1 235.3C588.1 235.2 594.1 234.8 597.9 234.6C601.7 234.4 605.1 234.2 609.0 234.2C612.9 234.1 619.4 234.2 621.5 234.2"/><path d="M586.1 236.7C587.6 236.8 592.0 236.7 595.1 237.4C598.2 238.1 602.1 239.9 604.8 240.8C607.6 241.8 609.0 242.2 611.8 242.9C614.6 243.6 619.9 244.7 621.5 245.0"/><path d="M586.1 238.1C588.1 238.3 594.1 238.8 597.9 239.4C601.7 240.1 605.1 241.2 609.0 242.2C612.9 243.3 619.4 245.1 621.5 245.7"/><path d="M586.1 260.3C587.6 259.8 592.0 259.1 595.1 257.5C598.2 255.9 602.1 252.3 604.8 250.6C607.6 248.8 609.0 248.5 611.8 247.1C614.6 245.7 619.9 243.0 621.5 242.2"/><path d="M586.1 261.0C588.1 260.9 594.1 261.1 597.9 260.3C601.7 259.5 605.1 257.8 609.0 256.1C612.9 254.4 619.4 250.9 621.5 249.9"/></g>
<g clip-path="url(#p2)"><path d="M638.2 213.1C639.6 212.6 643.5 211.0 646.5 210.3C649.5 209.6 652.8 208.7 656.2 208.9C659.7 209.1 663.2 210.0 667.3 211.7C671.5 213.3 677.5 216.8 681.2 218.6C684.9 220.5 686.5 220.9 689.6 222.8C692.6 224.6 696.0 227.2 699.3 229.7C702.5 232.3 707.4 236.7 709.0 238.1"/><path d="M638.2 226.2C639.6 226.6 643.5 227.6 646.5 228.3C649.5 229.0 652.8 230.5 656.2 230.4C659.7 230.3 663.2 228.8 667.3 227.6C671.5 226.5 677.5 224.3 681.2 223.5C684.9 222.6 686.5 222.5 689.6 222.5C692.6 222.5 696.0 222.8 699.3 223.5C702.5 224.1 707.4 225.8 709.0 226.2"/><path d="M638.2 238.1C639.6 238.3 643.5 238.9 646.5 239.4C649.5 240.0 652.8 240.9 656.2 241.5C659.7 242.1 663.2 242.2 667.3 242.9C671.5 243.6 677.5 245.1 681.2 245.7C684.9 246.3 686.5 246.7 689.6 246.4C692.6 246.0 696.0 244.5 699.3 243.6C702.5 242.7 707.4 241.3 709.0 240.8"/><path d="M638.2 240.8C639.6 241.2 643.5 242.2 646.5 242.9C649.5 243.6 652.8 243.5 656.2 245.0C659.7 246.5 663.2 249.7 667.3 251.9C671.5 254.1 677.5 256.7 681.2 258.2C684.9 259.7 686.5 260.4 689.6 261.0C692.6 261.6 696.0 262.6 699.3 261.7C702.5 260.7 707.4 256.5 709.0 255.4"/><path d="M638.2 254.7C639.6 253.8 643.5 251.0 646.5 249.2C649.5 247.3 652.8 245.8 656.2 243.6C659.7 241.4 663.2 238.8 667.3 236.0C671.5 233.2 677.5 229.3 681.2 226.9C684.9 224.6 686.5 223.7 689.6 222.1C692.6 220.5 696.0 218.7 699.3 217.2C702.5 215.7 707.4 213.8 709.0 213.1"/></g>
<g clip-path="url(#p1)"><path d="M586.1 296.1C587.6 295.4 592.0 293.3 595.1 291.9C598.2 290.6 600.4 288.9 604.8 287.8C609.2 286.6 618.7 285.5 621.5 285.0"/><path d="M586.1 296.8C587.6 296.9 592.0 297.8 595.1 297.5C598.2 297.2 600.4 295.8 604.8 294.7C609.2 293.7 618.7 291.8 621.5 291.2"/><path d="M586.1 310.0C587.6 310.5 592.0 311.7 595.1 312.8C598.2 313.8 600.4 315.6 604.8 316.2C609.2 316.9 618.7 316.8 621.5 316.9"/><path d="M586.1 309.3C587.6 309.8 592.0 310.6 595.1 312.1C598.2 313.6 602.1 316.6 604.8 318.3C607.6 320.1 609.0 321.3 611.8 322.5C614.6 323.7 619.9 324.8 621.5 325.3"/><path d="M586.1 329.4C587.6 328.9 592.0 326.8 595.1 326.0C598.2 325.2 600.4 324.7 604.8 324.6C609.2 324.5 618.7 325.2 621.5 325.3"/><path d="M586.1 330.8C587.6 332.0 592.0 335.5 595.1 337.8C598.2 340.1 600.4 343.4 604.8 344.7C609.2 346.0 618.7 345.3 621.5 345.4"/><path d="M586.1 343.3C587.6 342.9 592.0 341.1 595.1 340.6C598.2 340.0 600.4 340.0 604.8 339.9C609.2 339.7 618.7 339.9 621.5 339.9"/><path d="M586.1 346.1C587.6 346.3 592.0 346.6 595.1 347.5C598.2 348.4 600.4 350.0 604.8 351.7C609.2 353.3 618.7 356.3 621.5 357.2"/></g>
<g clip-path="url(#p2)"><path d="M638.2 278.1C639.3 276.9 642.8 272.6 645.1 271.1C647.4 269.6 649.5 268.6 652.1 269.0C654.6 269.5 657.4 271.2 660.4 273.9C663.4 276.6 666.6 280.6 670.1 285.0C673.6 289.4 678.0 295.9 681.2 300.3C684.5 304.7 686.5 307.9 689.6 311.4C692.6 314.9 696.0 318.6 699.3 321.1C702.5 323.7 707.4 325.7 709.0 326.7"/><path d="M638.2 311.4C639.6 311.9 643.5 313.4 646.5 314.2C649.5 315.0 652.8 316.0 656.2 316.2C659.7 316.5 663.6 316.1 667.3 315.6C671.0 315.0 674.7 313.8 678.4 312.8C682.1 311.7 686.1 310.0 689.6 309.3C693.0 308.6 696.0 308.4 699.3 308.6C702.5 308.8 707.4 310.3 709.0 310.7"/><path d="M638.2 330.8C639.6 331.3 643.5 333.1 646.5 333.6C649.5 334.1 652.8 333.8 656.2 333.6C659.7 333.4 663.6 332.9 667.3 332.2C671.0 331.5 674.7 330.1 678.4 329.4C682.1 328.8 686.1 328.5 689.6 328.1C693.0 327.6 696.0 327.2 699.3 326.9C702.5 326.7 707.4 326.5 709.0 326.4"/><path d="M638.2 328.1C639.6 328.5 643.5 330.5 646.5 330.8C649.5 331.2 652.8 331.3 656.2 330.1C659.7 329.0 663.6 326.6 667.3 323.9C671.0 321.2 674.7 317.6 678.4 314.2C682.1 310.7 686.1 306.8 689.6 303.1C693.0 299.4 696.0 295.9 699.3 291.9C702.5 288.0 707.4 281.5 709.0 279.4"/><path d="M638.2 340.6C639.6 340.1 643.5 338.2 646.5 337.8C649.5 337.3 652.8 336.9 656.2 337.8C659.7 338.7 663.6 341.7 667.3 343.3C671.0 345.0 674.7 346.7 678.4 347.5C682.1 348.3 686.1 348.7 689.6 348.2C693.0 347.7 696.0 346.1 699.3 344.7C702.5 343.3 707.4 340.7 709.0 339.9"/></g>
<g clip-path="url(#p1)"><path d="M586.1 352.8C587.6 353.0 592.0 353.0 595.1 354.2C598.2 355.3 602.1 358.1 604.8 359.7C607.6 361.3 609.0 363.0 611.8 363.9C614.6 364.8 619.9 365.0 621.5 365.3"/><path d="M586.1 354.2C587.6 354.5 592.0 354.9 595.1 356.2C598.2 357.6 602.1 360.6 604.8 362.5C607.6 364.4 609.0 366.2 611.8 367.4C614.6 368.5 619.9 369.1 621.5 369.4"/><path d="M597.9 350.0C599.0 350.5 602.5 351.9 604.8 352.8C607.1 353.7 609.0 354.6 611.8 355.6C614.6 356.5 619.9 357.9 621.5 358.3"/><path d="M586.1 390.3C587.6 389.4 592.0 386.6 595.1 384.7C598.2 382.9 600.4 381.2 604.8 379.2C609.2 377.1 618.7 373.4 621.5 372.2"/><path d="M586.1 391.7C587.6 391.0 592.0 388.9 595.1 387.5C598.2 386.1 600.4 384.8 604.8 383.3C609.2 381.8 618.7 379.3 621.5 378.5"/><path d="M586.1 393.1C587.6 393.8 592.0 396.8 595.1 397.2C598.2 397.7 600.4 396.3 604.8 395.8C609.2 395.4 618.7 394.7 621.5 394.4"/><path d="M586.1 395.8C587.6 396.5 592.0 399.4 595.1 400.0C598.2 400.6 600.4 399.5 604.8 399.3C609.2 399.1 618.7 398.7 621.5 398.6"/><path d="M586.1 401.4C587.6 401.5 592.0 401.7 595.1 402.1C598.2 402.4 600.4 403.1 604.8 403.5C609.2 403.8 618.7 404.1 621.5 404.2"/><path d="M586.1 404.2C587.6 404.5 592.0 405.6 595.1 406.2C598.2 406.9 600.4 407.6 604.8 408.3C609.2 409.0 618.7 410.1 621.5 410.4"/></g>
<g clip-path="url(#p2)"><path d="M638.2 354.9C639.6 355.7 643.5 358.2 646.5 359.7C649.5 361.2 652.8 363.4 656.2 363.9C659.7 364.4 663.2 363.9 667.3 362.5C671.5 361.1 676.6 357.4 681.2 355.6C685.9 353.7 690.5 351.9 695.1 351.4C699.7 350.9 706.7 352.5 709.0 352.8"/><path d="M638.2 355.6C639.6 356.7 643.5 360.3 646.5 362.5C649.5 364.7 652.8 367.6 656.2 368.8C659.7 369.9 663.2 370.5 667.3 369.4C671.5 368.4 676.6 364.8 681.2 362.5C685.9 360.2 690.5 356.9 695.1 355.6C699.7 354.2 706.7 354.4 709.0 354.2"/><path d="M638.2 376.4C639.6 376.3 643.5 375.2 646.5 375.7C649.5 376.2 652.8 377.2 656.2 379.2C659.7 381.1 663.6 384.7 667.3 387.5C671.0 390.3 674.7 393.3 678.4 395.8C682.1 398.4 686.1 400.7 689.6 402.8C693.0 404.9 696.0 406.8 699.3 408.3C702.5 409.8 707.4 411.2 709.0 411.8"/><path d="M638.2 388.9C639.6 388.9 643.5 388.8 646.5 388.9C649.5 389.0 652.8 389.2 656.2 389.6C659.7 389.9 663.6 390.3 667.3 391.0C671.0 391.7 674.7 393.2 678.4 393.8C682.1 394.3 686.1 394.8 689.6 394.4C693.0 394.1 696.0 392.5 699.3 391.7C702.5 390.9 707.4 389.9 709.0 389.6"/><path d="M638.2 405.6C639.6 405.7 643.5 406.2 646.5 406.2C649.5 406.2 652.8 406.0 656.2 405.6C659.7 405.1 663.6 404.3 667.3 403.5C671.0 402.7 674.7 401.4 678.4 400.7C682.1 400.0 686.1 399.2 689.6 399.3C693.0 399.4 696.0 400.6 699.3 401.4C702.5 402.2 707.4 403.7 709.0 404.2"/><path d="M638.2 411.8C639.6 411.7 643.5 411.9 646.5 411.1C649.5 410.3 652.8 408.8 656.2 406.9C659.7 405.1 663.6 402.3 667.3 400.0C671.0 397.7 674.7 395.1 678.4 393.1C682.1 391.0 686.1 389.4 689.6 387.5C693.0 385.6 696.0 383.6 699.3 381.9C702.5 380.3 707.4 378.5 709.0 377.8"/></g>
<g clip-path="url(#p1)"><path d="M586.1 442.5C589.2 442.5 598.9 442.5 604.8 442.2C610.7 442.0 618.7 441.3 621.5 441.1"/><path d="M586.1 443.9C589.2 443.8 598.9 443.3 604.8 443.2C610.7 443.1 618.7 443.2 621.5 443.2"/><path d="M586.1 448.1C589.2 447.8 598.9 447.1 604.8 446.7C610.7 446.2 618.7 445.5 621.5 445.3"/><path d="M586.1 449.4C589.2 449.6 598.9 450.3 604.8 450.1C610.7 450.0 618.7 449.0 621.5 448.8"/><path d="M586.1 452.2C589.2 452.6 598.9 453.7 604.8 454.3C610.7 454.9 618.7 455.5 621.5 455.7"/><path d="M586.1 459.2C589.2 459.3 598.9 459.2 604.8 459.9C610.7 460.6 618.7 462.8 621.5 463.3"/><path d="M586.1 461.9C589.2 462.2 598.9 462.6 604.8 463.3C610.7 464.0 618.7 465.6 621.5 466.1"/><path d="M586.1 465.4C589.2 465.6 598.9 466.8 604.8 466.8C610.7 466.8 618.7 465.6 621.5 465.4"/><path d="M586.1 468.2C589.2 468.4 598.9 469.1 604.8 469.6C610.7 470.0 618.7 470.7 621.5 471.0"/><path d="M586.1 470.3C589.2 470.3 598.9 470.0 604.8 470.3C610.7 470.5 618.7 471.4 621.5 471.7"/><path d="M586.1 476.5C589.2 476.4 598.9 475.9 604.8 475.8C610.7 475.7 618.7 475.8 621.5 475.8"/><path d="M586.1 480.0C589.2 479.9 598.9 479.7 604.8 479.3C610.7 479.0 618.7 478.1 621.5 477.9"/><path d="M586.1 482.1C589.2 482.2 598.9 482.7 604.8 482.8C610.7 482.9 618.7 482.8 621.5 482.8"/><path d="M586.1 484.9C589.2 484.7 598.9 483.9 604.8 484.2C610.7 484.4 618.7 485.9 621.5 486.2"/><path d="M586.1 486.9C589.2 486.7 598.9 486.1 604.8 485.6C610.7 485.0 618.7 483.8 621.5 483.5"/><path d="M586.1 489.7C589.2 489.6 598.9 489.3 604.8 489.0C610.7 488.8 618.7 488.4 621.5 488.3"/><path d="M586.1 491.8C589.2 491.9 598.9 492.3 604.8 492.5C610.7 492.7 618.7 493.1 621.5 493.2"/><path d="M586.1 494.6C588.1 494.9 593.6 495.9 597.9 496.7C602.2 497.5 607.8 498.8 611.8 499.4C615.7 500.1 619.9 500.6 621.5 500.8"/><path d="M586.1 498.1C588.1 497.6 593.6 495.9 597.9 495.3C602.2 494.7 607.8 494.8 611.8 494.6C615.7 494.4 619.9 494.0 621.5 493.9"/><path d="M586.1 500.8C588.1 500.6 593.6 499.2 597.9 499.4C602.2 499.7 607.8 501.6 611.8 502.2C615.7 502.8 619.9 502.8 621.5 502.9"/><path d="M586.1 505.0C589.2 504.5 598.9 502.5 604.8 502.2C610.7 502.0 618.7 503.4 621.5 503.6"/></g>
<g clip-path="url(#p2)"><path d="M638.2 443.9C640.7 443.8 648.6 443.0 653.4 443.2C658.3 443.4 662.7 444.6 667.3 445.3C672.0 446.0 676.6 447.2 681.2 447.4C685.9 447.5 690.5 446.4 695.1 446.0C699.7 445.5 706.7 444.8 709.0 444.6"/><path d="M638.2 447.4C640.7 447.4 648.6 447.4 653.4 447.4C658.3 447.4 662.7 447.2 667.3 447.4C672.0 447.5 676.6 447.7 681.2 448.1C685.9 448.4 690.5 449.0 695.1 449.4C699.7 449.9 706.7 450.6 709.0 450.8"/><path d="M638.2 452.2C640.7 452.1 648.6 452.0 653.4 451.5C658.3 451.1 662.7 450.0 667.3 449.4C672.0 448.9 676.6 448.4 681.2 448.1C685.9 447.7 690.5 447.6 695.1 447.4C699.7 447.1 706.7 446.8 709.0 446.7"/><path d="M638.2 455.0C640.7 455.0 648.6 455.2 653.4 455.0C658.3 454.8 662.7 454.0 667.3 453.6C672.0 453.3 676.6 452.9 681.2 452.9C685.9 452.9 690.5 453.4 695.1 453.6C699.7 453.8 706.7 454.2 709.0 454.3"/><path d="M638.2 459.2C640.7 459.3 648.6 459.7 653.4 459.9C658.3 460.0 662.7 460.1 667.3 459.9C672.0 459.6 676.6 458.6 681.2 458.5C685.9 458.4 690.5 459.1 695.1 459.2C699.7 459.3 706.7 459.2 709.0 459.2"/><path d="M638.2 466.8C640.7 467.2 648.6 468.0 653.4 468.9C658.3 469.8 662.7 471.7 667.3 472.4C672.0 473.1 676.6 473.2 681.2 473.1C685.9 472.9 690.5 472.1 695.1 471.7C699.7 471.2 706.7 470.5 709.0 470.3"/><path d="M638.2 468.2C640.7 468.4 648.6 469.0 653.4 469.6C658.3 470.2 662.7 471.7 667.3 471.7C672.0 471.7 676.6 470.5 681.2 469.6C685.9 468.7 690.5 466.7 695.1 466.1C699.7 465.5 706.7 466.1 709.0 466.1"/><path d="M638.2 471.7C639.6 472.1 643.5 473.5 646.5 474.4C649.5 475.4 652.8 476.3 656.2 477.2C659.7 478.1 663.2 479.3 667.3 480.0C671.5 480.7 676.6 480.9 681.2 481.4C685.9 481.9 690.5 482.8 695.1 482.8C699.7 482.8 706.7 481.6 709.0 481.4"/><path d="M638.2 475.8C639.6 475.6 643.5 474.4 646.5 474.4C649.5 474.4 652.8 474.9 656.2 475.8C659.7 476.8 663.2 478.8 667.3 480.0C671.5 481.2 676.6 482.2 681.2 482.8C685.9 483.4 690.5 483.4 695.1 483.5C699.7 483.6 706.7 483.5 709.0 483.5"/><path d="M638.2 479.3C640.7 479.4 648.6 480.3 653.4 480.0C658.3 479.7 662.7 478.1 667.3 477.2C672.0 476.3 676.6 475.1 681.2 474.4C685.9 473.8 690.5 473.4 695.1 473.1C699.7 472.7 706.7 472.5 709.0 472.4"/><path d="M638.2 482.8C640.7 482.7 648.6 482.1 653.4 482.1C658.3 482.1 662.7 482.2 667.3 482.8C672.0 483.4 676.6 484.6 681.2 485.6C685.9 486.5 690.5 487.6 695.1 488.3C699.7 489.0 706.7 489.5 709.0 489.7"/><path d="M638.2 485.6C640.7 485.6 648.6 485.8 653.4 485.6C658.3 485.3 662.7 484.2 667.3 484.2C672.0 484.2 676.6 484.4 681.2 485.6C685.9 486.7 690.5 490.2 695.1 491.1C699.7 492.0 706.7 491.1 709.0 491.1"/><path d="M638.2 489.7C640.7 489.5 648.6 488.8 653.4 488.3C658.3 487.9 662.7 486.9 667.3 486.9C672.0 486.9 676.6 487.4 681.2 488.3C685.9 489.3 690.5 491.6 695.1 492.5C699.7 493.4 706.7 493.7 709.0 493.9"/><path d="M638.2 495.3C639.6 495.0 643.5 494.6 646.5 493.9C649.5 493.2 652.8 492.0 656.2 491.1C659.7 490.2 663.2 488.1 667.3 488.3C671.5 488.6 677.8 490.6 681.2 492.5C684.7 494.4 685.9 497.6 688.2 499.4C690.5 501.3 692.3 503.1 695.1 503.6C697.9 504.1 702.5 503.1 704.8 502.2C707.1 501.3 708.3 498.8 709.0 498.1"/><path d="M638.2 499.4C639.6 499.0 643.5 497.4 646.5 496.7C649.5 496.0 652.8 496.1 656.2 495.3C659.7 494.5 663.6 493.0 667.3 491.8C671.0 490.6 675.0 489.1 678.4 488.3C681.9 487.5 684.7 486.9 688.2 486.9C691.6 486.9 695.8 487.9 699.3 488.3C702.8 488.8 707.4 489.5 709.0 489.7"/><path d="M638.2 500.1C639.6 500.9 644.0 503.7 646.5 505.0C649.0 506.3 650.9 507.4 653.4 507.8C656.0 508.1 658.3 508.0 661.8 507.1C665.2 506.2 670.3 503.7 674.3 502.2C678.2 500.7 681.9 499.0 685.4 498.1C688.9 497.1 691.9 496.9 695.1 496.7C698.4 496.4 702.5 496.9 704.8 496.7C707.1 496.4 708.3 495.5 709.0 495.3"/></g>
<g clip-path="url(#p0)"><path d="M436.9 296.4C439.8 298.0 448.8 303.6 453.9 306.1C459.0 308.7 463.1 310.9 467.8 311.7C472.4 312.5 477.0 312.4 481.7 311.0C486.3 309.6 490.9 306.0 495.6 303.3C500.2 300.7 504.8 297.1 509.4 295.0C514.1 292.9 518.7 291.3 523.3 290.8C528.0 290.4 532.6 290.8 537.2 292.2C541.9 293.6 545.7 296.2 551.1 299.2C556.6 302.2 566.7 308.4 569.9 310.3"/><path d="M326.9 435.6C328.9 435.7 334.6 435.7 338.9 436.2C343.2 436.8 348.8 438.2 352.8 439.0C356.7 439.8 357.9 440.6 362.5 441.1C367.1 441.6 372.9 441.5 380.6 441.8C388.2 442.2 399.1 443.0 408.3 443.2C417.6 443.4 426.2 443.1 436.1 443.2C446.0 443.3 457.9 443.8 467.8 443.9C477.7 444.0 486.3 444.0 495.6 443.9C504.8 443.8 514.1 443.5 523.3 443.2C532.6 442.8 543.4 442.0 551.1 441.8C558.9 441.6 566.7 441.8 569.9 441.8"/><path d="M326.9 450.8C328.9 450.9 334.6 451.5 338.9 451.5C343.2 451.5 348.8 450.9 352.8 450.8C356.7 450.7 357.9 450.4 362.5 450.8C367.1 451.3 375.2 452.5 380.6 453.6C385.9 454.8 389.8 456.6 394.4 457.8C399.1 458.9 403.7 460.1 408.3 460.6C413.0 461.0 417.6 460.8 422.2 460.6C426.9 460.3 429.7 459.4 436.1 459.2C442.5 458.9 453.2 459.2 460.8 459.2C468.4 459.2 474.7 459.1 481.7 459.2C488.6 459.3 495.6 459.6 502.5 459.9C509.4 460.1 516.4 460.7 523.3 460.6C530.3 460.4 536.4 460.8 544.2 459.2C551.9 457.5 565.6 452.2 569.9 450.8"/><path d="M326.9 360.3C328.9 359.8 334.6 358.9 338.9 357.5C343.2 356.1 349.1 353.2 352.8 351.9C356.5 350.7 357.6 349.9 361.1 349.9C364.6 349.9 369.2 351.1 373.6 351.9C378.0 352.8 381.7 354.4 387.5 354.7C393.3 355.1 400.1 354.3 408.3 354.0C416.6 353.8 427.0 353.3 436.9 353.3C446.9 353.3 458.0 353.9 467.8 354.0C477.5 354.1 488.6 354.3 495.6 354.0C502.5 353.8 504.8 352.8 509.4 352.6C514.1 352.5 518.7 353.0 523.3 353.3C528.0 353.7 532.6 354.8 537.2 354.7C541.9 354.6 545.7 353.4 551.1 352.6C556.6 351.8 566.7 350.3 569.9 349.9"/><path d="M326.9 237.9C328.9 238.0 334.6 237.9 338.9 238.6C343.2 239.3 348.1 241.2 352.8 242.1C357.4 243.0 362.0 243.7 366.7 244.2C371.3 244.6 375.9 244.5 380.6 244.9C385.2 245.2 390.3 246.0 394.4 246.2C398.6 246.5 402.1 246.6 405.6 246.2C409.0 245.9 411.3 245.1 415.3 244.2C419.2 243.2 422.7 241.4 429.2 240.7C435.6 240.0 447.5 240.2 453.9 240.0C460.3 239.8 463.1 239.5 467.8 239.3C472.4 239.1 477.0 239.0 481.7 238.6C486.3 238.3 490.9 236.9 495.6 237.2C500.2 237.6 504.8 240.0 509.4 240.7C514.1 241.4 518.7 241.3 523.3 241.4C528.0 241.5 532.6 241.3 537.2 241.4C541.9 241.5 545.7 241.6 551.1 242.1C556.6 242.5 566.7 243.8 569.9 244.2"/><path d="M327.0 379.0C328.0 379.1 330.1 378.6 333.1 379.6C336.2 380.6 340.4 382.6 345.3 385.1C350.2 387.5 356.9 391.7 362.5 394.5C368.2 397.4 374.1 399.9 379.2 402.0C384.2 404.0 388.2 405.9 392.7 406.7C397.2 407.5 401.7 407.1 406.2 406.7C410.8 406.4 414.7 405.1 419.8 404.7C424.9 404.2 431.3 403.7 437.0 404.0C442.6 404.4 448.7 405.5 453.8 406.8C458.8 408.0 462.9 410.7 467.5 411.6C472.1 412.5 476.7 412.4 481.3 412.3C485.9 412.2 490.4 411.7 495.0 410.9C499.6 410.1 504.2 408.4 508.8 407.5C513.4 406.5 517.9 406.2 522.5 405.4C527.1 404.6 531.7 403.7 536.3 402.6C540.9 401.6 544.4 400.5 550.0 399.2C555.6 397.9 566.5 395.8 569.8 395.1"/><path d="M326.9 229.2C327.8 229.4 329.5 228.9 331.9 230.3C334.4 231.6 338.2 234.4 341.7 237.2C345.1 240.0 349.5 245.0 352.8 246.9C356.0 248.9 358.1 247.9 361.1 249.0C364.1 250.2 367.1 252.2 370.8 253.9C374.5 255.6 379.4 258.6 383.3 259.4C387.3 260.3 390.3 259.2 394.4 258.8C398.6 258.3 403.7 256.9 408.3 256.7C413.0 256.4 417.6 256.9 422.2 257.4C426.9 257.8 430.8 259.1 436.1 259.4C441.4 259.8 448.6 260.1 453.9 259.4C459.2 258.8 463.1 255.9 467.8 255.3C472.4 254.7 477.0 255.7 481.7 256.0C486.3 256.2 490.9 256.3 495.6 256.7C500.2 257.0 504.8 257.8 509.4 258.1C514.1 258.3 518.7 257.6 523.3 258.1C528.0 258.5 532.6 260.6 537.2 260.8C541.9 261.1 545.7 261.2 551.1 259.4C556.6 257.7 566.7 251.9 569.9 250.4"/><path d="M327.0 395.2C328.9 395.1 334.4 394.8 338.5 394.5C342.7 394.3 348.1 394.0 352.1 393.9C356.1 393.7 358.0 393.5 362.5 393.9C367.0 394.2 374.1 395.2 379.2 395.9C384.2 396.6 388.2 397.4 392.7 397.9C397.2 398.5 401.7 399.2 406.2 399.3C410.8 399.4 414.7 399.3 419.8 398.6C424.9 397.9 431.3 396.8 437.0 395.2C442.6 393.6 448.7 390.3 453.8 388.9C458.8 387.5 462.9 386.8 467.5 386.8C472.1 386.8 476.7 387.6 481.3 388.9C485.9 390.1 490.4 392.6 495.0 394.4C499.6 396.2 504.2 398.3 508.8 399.9C513.4 401.5 517.9 403.8 522.5 404.0C527.1 404.2 531.7 402.4 536.3 401.3C540.9 400.1 544.4 398.2 550.0 397.1C555.6 396.1 566.5 395.4 569.8 395.1"/><path d="M362.5 516.8C365.5 516.5 375.2 515.8 380.6 514.7C385.9 513.7 389.8 511.8 394.4 510.6C399.1 509.3 403.7 508.0 408.3 507.1C413.0 506.2 417.6 505.6 422.2 505.0C426.9 504.4 429.7 504.1 436.1 503.6C442.5 503.1 453.2 502.9 460.8 502.2C468.4 501.5 474.7 500.1 481.7 499.4C488.6 498.8 495.6 497.4 502.5 498.1C509.4 498.8 517.5 501.3 523.3 503.6C529.1 505.9 532.6 509.6 537.2 511.9C541.9 514.3 545.7 516.7 551.1 517.5C556.6 518.3 566.7 516.9 569.9 516.8"/><path d="M326.9 493.9C328.9 493.0 334.6 490.0 338.9 488.3C343.2 486.7 348.8 485.2 352.8 484.2C356.7 483.1 357.9 482.5 362.5 482.1C367.1 481.6 375.2 481.6 380.6 481.4C385.9 481.2 388.7 480.7 394.4 480.7C400.2 480.7 408.3 481.4 415.3 481.4C422.2 481.4 428.5 481.2 436.1 480.7C443.7 480.2 453.2 478.8 460.8 478.6C468.4 478.4 474.7 479.5 481.7 479.3C488.6 479.1 496.7 477.3 502.5 477.2C508.3 477.1 511.8 477.7 516.4 478.6C521.0 479.5 525.6 482.2 530.3 482.8C534.9 483.4 537.6 482.3 544.2 482.1C550.8 481.9 565.6 481.5 569.9 481.4"/><path d="M326.9 342.9C328.9 343.0 334.6 342.8 338.9 343.6C343.2 344.4 349.1 346.7 352.8 347.8C356.5 348.8 357.6 349.6 361.1 349.9C364.6 350.1 368.1 349.5 373.6 349.2C379.2 348.8 386.3 348.4 394.4 347.8C402.5 347.2 415.1 346.2 422.2 345.7C429.3 345.2 431.7 345.8 436.9 345.0C442.2 344.2 448.8 341.8 453.9 340.8C459.0 339.9 463.1 339.6 467.8 339.4C472.4 339.3 477.0 339.9 481.7 340.1C486.3 340.4 490.9 340.3 495.6 340.8C500.2 341.4 504.8 342.6 509.4 343.6C514.1 344.7 518.7 346.2 523.3 347.1C528.0 348.0 532.6 348.7 537.2 349.2C541.9 349.6 545.7 349.7 551.1 349.9C556.6 350.0 566.7 349.9 569.9 349.9"/><path d="M326.9 253.2C328.9 252.8 334.6 252.2 338.9 251.1C343.2 250.1 348.1 248.4 352.8 246.9C357.4 245.4 362.0 243.9 366.7 242.1C371.3 240.2 375.9 237.2 380.6 235.8C385.2 234.4 389.8 234.2 394.4 233.8C399.1 233.3 403.7 232.9 408.3 233.1C413.0 233.2 417.6 234.0 422.2 234.4C426.9 234.9 430.8 236.3 436.1 235.8C441.4 235.4 448.6 233.2 453.9 231.7C459.2 230.2 463.1 227.7 467.8 226.8C472.4 225.9 477.0 225.5 481.7 226.1C486.3 226.7 490.9 229.1 495.6 230.3C500.2 231.4 504.8 232.5 509.4 233.1C514.1 233.6 518.7 233.6 523.3 233.8C528.0 233.9 532.6 233.2 537.2 233.8C541.9 234.3 545.7 235.6 551.1 237.2C556.6 238.8 566.7 242.4 569.9 243.5"/><path d="M436.9 495.3C442.0 495.2 457.8 494.6 467.5 495.0C477.2 495.4 485.8 497.8 495.0 497.8C504.2 497.8 513.3 495.9 522.5 495.0C531.7 494.1 542.3 492.8 550.0 492.2C557.7 491.6 565.4 491.6 568.5 491.5"/><path d="M326.9 177.2C328.0 177.5 330.6 177.5 333.3 178.9C336.0 180.3 339.8 182.9 343.1 185.8C346.3 188.7 349.8 193.7 352.8 196.2C355.8 198.8 356.5 200.3 361.1 201.1C365.7 202.0 375.0 201.0 380.6 201.4C386.1 201.7 389.8 202.2 394.4 203.2C399.1 204.2 403.7 206.1 408.3 207.4C413.0 208.6 417.6 210.0 422.2 210.8C426.9 211.6 430.8 212.3 436.1 212.2C441.4 212.1 448.6 210.3 453.9 210.1C459.2 210.0 463.1 211.0 467.8 211.5C472.4 212.1 477.0 213.3 481.7 213.3C486.3 213.3 490.9 212.4 495.6 211.5C500.2 210.6 504.8 209.2 509.4 208.1C514.1 206.9 518.7 205.6 523.3 204.6C528.0 203.5 532.6 202.4 537.2 201.8C541.9 201.2 545.7 201.2 551.1 201.1C556.6 201.0 566.7 201.3 569.9 201.4"/><path d="M326.9 468.9C327.8 469.1 330.0 469.6 331.9 470.3C333.9 471.0 336.6 471.9 338.9 473.1C341.2 474.2 343.5 475.4 345.8 477.2C348.1 479.1 350.5 481.6 352.8 484.2C355.1 486.7 358.1 490.2 359.7 492.5C361.3 494.8 360.2 497.1 362.5 498.1C364.8 499.0 369.4 498.3 373.6 498.1C377.8 497.8 382.9 498.1 387.5 496.7C392.1 495.3 396.8 491.1 401.4 489.7C406.0 488.3 409.5 488.7 415.3 488.3C421.1 488.0 428.5 488.0 436.1 487.6C443.7 487.3 453.2 486.6 460.8 486.2C468.4 485.9 474.7 485.4 481.7 485.6C488.6 485.7 495.6 486.7 502.5 486.9C509.4 487.2 517.5 486.2 523.3 486.9C529.1 487.6 532.6 489.5 537.2 491.1C541.9 492.7 545.7 495.5 551.1 496.7C556.6 497.8 566.7 497.8 569.9 498.1"/><path d="M326.9 295.7C328.5 295.9 332.7 296.0 336.1 297.1C339.5 298.1 343.1 299.7 347.2 301.9C351.4 304.1 356.7 307.7 361.1 310.3C365.5 312.8 369.2 314.7 373.6 317.2C378.0 319.8 382.9 323.4 387.5 325.6C392.1 327.8 395.6 329.5 401.4 330.4C407.2 331.3 416.3 331.0 422.2 331.1C428.1 331.2 431.7 331.8 436.9 331.1C442.2 330.4 448.8 327.6 453.9 326.9C459.0 326.2 463.1 326.7 467.8 326.9C472.4 327.2 477.0 327.5 481.7 328.3C486.3 329.1 490.9 331.0 495.6 331.8C500.2 332.6 504.8 333.3 509.4 333.2C514.1 333.1 518.7 332.2 523.3 331.1C528.0 330.1 532.6 328.6 537.2 326.9C541.9 325.3 545.7 323.9 551.1 321.4C556.6 318.8 566.7 313.3 569.9 311.7"/><path d="M326.9 455.0C328.9 454.9 334.6 454.7 338.9 454.3C343.2 454.0 348.8 453.3 352.8 452.9C356.7 452.6 359.0 452.0 362.5 452.2C366.0 452.5 369.4 453.4 373.6 454.3C377.8 455.2 382.9 456.6 387.5 457.8C392.1 458.9 396.8 459.7 401.4 461.2C406.0 462.8 409.5 466.0 415.3 466.8C421.1 467.6 428.5 466.3 436.1 466.1C443.7 465.9 453.2 465.4 460.8 465.4C468.4 465.4 474.7 466.2 481.7 466.1C488.6 466.0 495.6 465.0 502.5 464.7C509.4 464.5 516.4 464.4 523.3 464.7C530.3 465.1 538.4 466.0 544.2 466.8C550.0 467.6 553.8 468.8 558.1 469.6C562.3 470.4 567.9 471.3 569.9 471.7"/><path d="M326.9 455.7C328.9 456.0 334.6 456.5 338.9 457.8C343.2 459.1 348.8 461.2 352.8 463.3C356.7 465.4 359.0 468.7 362.5 470.3C366.0 471.9 369.4 472.4 373.6 473.1C377.8 473.8 382.9 474.2 387.5 474.4C392.1 474.7 396.8 474.3 401.4 474.4C406.0 474.6 409.5 475.1 415.3 475.1C421.1 475.1 427.4 474.8 436.1 474.4C444.8 474.1 457.7 472.8 467.5 473.1C477.3 473.3 485.8 475.8 495.0 475.8C504.2 475.8 513.3 473.1 522.5 473.1C531.7 473.1 542.3 474.4 550.0 475.8C557.7 477.2 565.4 480.5 568.5 481.4"/><path d="M436.9 331.1C439.8 331.6 448.8 333.9 453.9 333.9C459.0 333.9 463.1 332.2 467.8 331.1C472.4 330.1 477.0 328.7 481.7 327.6C486.3 326.6 490.9 325.0 495.6 324.9C500.2 324.7 504.8 326.1 509.4 326.9C514.1 327.8 518.7 329.3 523.3 329.7C528.0 330.2 532.6 330.4 537.2 329.7C541.9 329.0 545.7 328.6 551.1 325.6C556.6 322.5 566.7 314.0 569.9 311.7"/><path d="M326.9 443.2C328.9 443.3 334.6 443.5 338.9 443.9C343.2 444.2 348.8 445.3 352.8 445.3C356.7 445.3 357.9 444.0 362.5 443.9C367.1 443.8 372.9 444.4 380.6 444.6C388.2 444.8 399.1 445.0 408.3 445.3C417.6 445.5 426.2 445.9 436.1 446.0C446.0 446.1 457.9 446.0 467.8 446.0C477.7 446.0 486.3 446.1 495.6 446.0C504.8 445.9 514.1 445.5 523.3 445.3C532.6 445.0 543.4 444.8 551.1 444.6C558.9 444.4 566.7 444.0 569.9 443.9"/><path d="M437.0 395.2C439.8 395.9 448.7 398.1 453.8 399.2C458.8 400.3 462.9 401.2 467.5 402.0C472.1 402.8 476.7 403.9 481.3 404.0C485.9 404.1 490.4 403.4 495.0 402.6C499.6 401.8 504.2 400.6 508.8 399.2C513.4 397.8 517.9 395.9 522.5 394.4C527.1 392.9 531.7 391.3 536.3 390.3C540.9 389.2 544.4 387.5 550.0 388.2C555.6 388.9 566.5 393.4 569.8 394.4"/><path d="M327.0 385.1C328.5 385.2 332.1 384.8 335.8 385.7C339.6 386.6 344.9 389.0 349.4 390.5C353.8 391.9 357.5 395.3 362.5 394.5C367.5 393.7 374.1 387.9 379.2 385.7C384.2 383.6 388.2 382.1 392.7 381.7C397.2 381.2 401.7 382.1 406.2 383.0C410.8 383.9 414.7 385.7 419.8 387.1C424.9 388.4 431.3 391.4 437.0 391.1C442.6 390.9 448.7 387.4 453.8 385.4C458.8 383.5 462.9 380.6 467.5 379.3C472.1 377.9 476.7 377.2 481.3 377.2C485.9 377.2 490.4 378.3 495.0 379.3C499.6 380.2 504.2 381.4 508.8 382.7C513.4 384.0 517.9 385.7 522.5 386.8C527.1 388.0 531.7 389.0 536.3 389.6C540.9 390.1 544.4 389.3 550.0 390.3C555.6 391.2 566.5 394.3 569.8 395.1"/><path d="M326.9 322.8C328.5 322.5 332.7 322.3 336.1 321.4C339.5 320.5 343.1 319.1 347.2 317.2C351.4 315.4 356.7 312.6 361.1 310.3C365.5 308.0 369.2 305.4 373.6 303.3C378.0 301.2 381.7 298.9 387.5 297.8C393.3 296.6 400.1 296.6 408.3 296.4C416.6 296.2 429.4 297.8 436.9 296.4C444.5 295.0 448.8 290.5 453.9 288.1C459.0 285.6 463.1 283.3 467.8 281.8C472.4 280.3 477.0 278.7 481.7 279.0C486.3 279.4 490.9 281.5 495.6 283.9C500.2 286.3 504.8 291.1 509.4 293.6C514.1 296.2 518.7 297.7 523.3 299.2C528.0 300.7 532.6 301.7 537.2 302.6C541.9 303.6 545.7 303.4 551.1 304.7C556.6 306.0 566.7 309.4 569.9 310.3"/><path d="M326.9 495.3C328.9 496.2 334.6 498.5 338.9 500.8C343.2 503.1 348.8 506.5 352.8 509.2C356.7 511.8 357.9 516.6 362.5 516.8C367.1 517.0 375.2 512.5 380.6 510.6C385.9 508.6 389.8 506.6 394.4 505.0C399.1 503.4 403.7 502.2 408.3 500.8C413.0 499.4 417.6 497.8 422.2 496.7C426.9 495.5 429.7 494.4 436.1 493.9C442.5 493.4 453.2 493.9 460.8 493.9C468.4 493.9 474.7 493.7 481.7 493.9C488.6 494.1 495.6 494.1 502.5 495.3C509.4 496.4 516.4 498.5 523.3 500.8C530.3 503.1 538.4 506.6 544.2 509.2C550.0 511.7 553.8 514.8 558.1 516.1C562.3 517.4 567.9 516.7 569.9 516.8"/><path d="M326.9 467.5C328.9 467.7 334.6 468.2 338.9 468.9C343.2 469.6 348.8 471.2 352.8 471.7C356.7 472.1 357.9 471.8 362.5 471.7C367.1 471.6 374.1 471.2 380.6 471.0C387.0 470.7 394.4 470.5 401.4 470.3C408.3 470.0 412.3 469.9 422.2 469.6C432.1 469.2 450.9 468.5 460.8 468.2C470.7 467.8 474.7 467.7 481.7 467.5C488.6 467.3 495.6 466.6 502.5 466.8C509.4 467.0 517.5 469.5 523.3 468.9C529.1 468.3 533.5 465.0 537.2 463.3C540.9 461.7 542.1 458.7 545.6 459.2C549.0 459.6 554.0 464.0 558.1 466.1C562.1 468.2 567.9 470.7 569.9 471.7"/><path d="M326.9 448.1C328.9 448.2 334.6 448.5 338.9 448.8C343.2 449.0 348.8 449.3 352.8 449.4C356.7 449.6 357.9 449.4 362.5 449.4C367.1 449.4 372.9 449.2 380.6 449.4C388.2 449.7 399.1 450.4 408.3 450.8C417.6 451.3 427.4 452.0 436.1 452.2C444.9 452.5 453.2 452.0 460.8 452.2C468.4 452.5 474.7 453.3 481.7 453.6C488.6 454.0 495.6 454.5 502.5 454.3C509.4 454.1 516.4 452.8 523.3 452.2C530.3 451.6 536.4 451.3 544.2 450.8C551.9 450.4 565.6 449.7 569.9 449.4"/><path d="M437.0 391.1C439.8 391.9 448.7 395.2 453.8 395.8C458.8 396.3 462.9 395.3 467.5 394.4C472.1 393.5 476.7 391.6 481.3 390.3C485.9 388.9 490.4 387.5 495.0 386.1C499.6 384.8 504.2 383.4 508.8 382.0C513.4 380.6 517.9 378.6 522.5 377.9C527.1 377.2 531.7 377.0 536.3 377.9C540.9 378.8 544.4 380.6 550.0 383.4C555.6 386.1 566.5 392.6 569.8 394.4"/><path d="M436.9 309.6C439.8 310.9 448.8 314.9 453.9 317.2C459.0 319.5 463.1 321.9 467.8 323.5C472.4 325.1 477.0 326.8 481.7 326.9C486.3 327.1 490.9 325.6 495.6 324.2C500.2 322.8 504.8 320.7 509.4 318.6C514.1 316.5 518.7 313.9 523.3 311.7C528.0 309.5 532.6 306.7 537.2 305.4C541.9 304.1 545.7 303.2 551.1 304.0C556.6 304.8 566.7 309.2 569.9 310.3"/><path d="M326.9 482.1C328.9 482.0 334.6 481.7 338.9 481.4C343.2 481.0 348.8 480.0 352.8 480.0C356.7 480.0 357.9 480.7 362.5 481.4C367.1 482.1 375.2 483.1 380.6 484.2C385.9 485.2 389.8 486.9 394.4 487.6C399.1 488.3 403.7 488.4 408.3 488.3C413.0 488.2 417.6 487.5 422.2 486.9C426.9 486.4 429.7 485.8 436.1 484.9C442.5 483.9 453.2 481.7 460.8 481.4C468.4 481.0 474.7 482.5 481.7 482.8C488.6 483.0 495.6 482.3 502.5 482.8C509.4 483.2 516.4 485.3 523.3 485.6C530.3 485.8 536.4 484.9 544.2 484.2C551.9 483.5 565.6 481.9 569.9 481.4"/><path d="M326.9 289.4C328.5 289.9 332.7 290.4 336.1 292.2C339.5 294.1 343.1 297.7 347.2 300.6C351.4 303.4 356.7 307.8 361.1 309.6C365.5 311.3 369.2 310.6 373.6 311.0C378.0 311.3 382.2 311.3 387.5 311.7C392.8 312.0 399.8 313.2 405.6 313.1C411.3 312.9 417.0 311.6 422.2 311.0C427.5 310.4 431.7 310.6 436.9 309.6C442.2 308.5 448.8 305.1 453.9 304.7C459.0 304.4 463.1 306.3 467.8 307.5C472.4 308.7 477.0 310.0 481.7 311.7C486.3 313.3 490.9 315.8 495.6 317.2C500.2 318.6 504.8 319.3 509.4 320.0C514.1 320.7 518.7 321.3 523.3 321.4C528.0 321.5 532.6 321.6 537.2 320.7C541.9 319.8 545.7 317.6 551.1 315.8C556.6 314.1 566.7 311.2 569.9 310.3"/></g>
<g clip-path="url(#p0)"><path d="M326.9 181.9C328.0 182.1 330.6 181.8 333.3 183.1C336.0 184.3 339.8 186.9 343.1 189.3C346.3 191.7 349.8 195.6 352.8 197.6C355.8 199.7 359.7 200.8 361.1 201.4"/><path d="M326.9 241.4C328.5 241.9 332.7 243.0 336.1 244.2C339.5 245.3 343.8 247.3 347.2 248.3C350.7 249.4 353.7 249.8 356.9 250.4C360.2 251.0 363.2 250.8 366.7 251.8C370.1 252.8 374.5 255.4 377.8 256.7C381.0 257.9 384.7 259.0 386.1 259.4"/><path d="M326.9 325.6C328.5 325.3 332.7 325.1 336.1 324.2C339.5 323.2 343.1 322.1 347.2 320.0C351.4 317.9 356.7 314.3 361.1 311.7C365.5 309.0 371.5 305.3 373.6 304.0"/><path d="M436.9 345.0L451.0 341.7"/><path d="M327.0 409.4C328.9 409.1 334.4 409.0 338.5 407.4C342.7 405.8 348.1 402.1 352.1 399.9C356.1 397.8 360.8 395.4 362.5 394.5"/><path d="M326.9 446.7C328.9 446.6 334.6 446.4 338.9 446.0C343.2 445.5 348.8 444.4 352.8 443.9C356.7 443.4 360.9 443.3 362.5 443.2"/><path d="M326.9 456.4C328.9 456.9 335.3 458.0 338.9 459.2C342.5 460.3 344.7 461.7 348.6 463.3C352.5 465.0 358.3 468.9 362.5 468.9C366.7 468.9 369.4 465.1 373.6 463.3C377.8 461.6 382.9 459.1 387.5 458.5C392.1 457.9 399.1 459.6 401.4 459.9"/><path d="M326.9 548.3C329.9 544.2 338.5 531.7 344.4 523.3C350.4 515.0 359.5 502.3 362.5 498.1"/><path d="M326.9 548.3C329.9 545.7 338.5 538.0 344.4 532.8C350.4 527.5 359.5 519.5 362.5 516.8"/><path d="M438.0 212.1C440.6 212.9 448.9 215.1 453.9 217.1C458.9 219.1 463.1 222.5 467.8 224.0C472.4 225.5 477.0 226.5 481.7 226.1C486.3 225.8 490.9 224.0 495.6 221.9C500.2 219.9 504.8 216.2 509.4 213.6C514.1 211.1 518.7 208.6 523.3 206.7C528.0 204.8 532.6 203.1 537.2 202.2C541.9 201.3 548.8 201.3 551.1 201.1"/><path d="M438.0 235.4C440.6 235.3 448.9 235.1 453.9 235.1C458.9 235.2 463.1 235.4 467.8 235.8C472.4 236.3 477.0 237.7 481.7 237.9C486.3 238.1 492.1 237.2 495.6 237.2C499.0 237.2 500.2 237.5 502.5 237.9C504.8 238.4 506.0 239.2 509.4 240.0C512.9 240.8 518.7 241.6 523.3 242.8C528.0 243.9 532.6 246.1 537.2 246.9C541.9 247.8 545.7 248.1 551.1 247.6C556.6 247.2 566.7 244.7 569.9 244.2"/><path d="M438.0 240.4C440.6 240.6 449.6 240.7 453.9 241.4C458.2 242.1 460.1 244.6 463.6 244.9C467.1 245.1 471.2 243.6 474.7 242.8C478.2 242.0 480.5 240.0 484.4 240.0C488.4 240.0 494.2 242.5 498.3 242.8C502.5 243.0 505.3 242.3 509.4 241.4C513.6 240.5 518.7 238.5 523.3 237.2C528.0 235.9 532.6 234.1 537.2 233.8C541.9 233.4 545.7 233.5 551.1 235.1C556.6 236.8 566.7 242.1 569.9 243.5"/><path d="M438.0 259.4C440.6 258.5 448.9 255.0 453.9 253.9C458.9 252.7 463.1 252.3 467.8 252.5C472.4 252.7 477.0 255.3 481.7 255.3C486.3 255.3 492.1 253.0 495.6 252.5C499.0 252.0 499.0 251.9 502.5 252.2C506.0 252.6 511.8 253.7 516.4 254.6C521.0 255.4 525.6 256.7 530.3 257.4C534.9 258.1 539.5 259.1 544.2 258.8C548.8 258.4 553.8 256.7 558.1 255.3C562.3 253.9 567.9 251.2 569.9 250.4"/><path d="M438.0 353.4C443.0 353.6 458.2 354.5 467.8 354.7C477.4 354.9 488.6 354.6 495.6 354.7C502.5 354.8 504.8 355.1 509.4 355.4C514.1 355.8 518.7 356.6 523.3 356.8C528.0 357.0 532.6 357.4 537.2 356.8C541.9 356.2 545.7 354.5 551.1 353.3C556.6 352.2 566.7 350.4 569.9 349.9"/><path d="M438.0 404.2C440.6 404.4 448.8 405.2 453.8 405.4C458.7 405.6 462.9 405.5 467.5 405.4C472.1 405.3 476.7 404.8 481.3 404.7C485.9 404.6 490.4 404.6 495.0 404.7C499.6 404.8 504.2 405.0 508.8 405.4C513.4 405.7 517.9 406.4 522.5 406.8C527.1 407.1 531.7 407.9 536.3 407.5C540.9 407.0 544.4 406.0 550.0 404.0C555.6 402.1 566.5 397.1 569.8 395.8"/><path d="M438.0 446.0C441.8 446.6 453.6 448.5 460.8 449.4C468.1 450.4 474.7 451.2 481.7 451.5C488.6 451.9 495.6 452.0 502.5 451.5C509.4 451.1 515.2 449.4 523.3 448.8C531.4 448.1 543.4 447.4 551.1 447.4C558.9 447.4 566.7 448.5 569.9 448.8"/><path d="M438.0 459.2C441.8 459.3 453.6 459.5 460.8 459.9C468.1 460.2 474.7 460.7 481.7 461.2C488.6 461.8 495.6 463.1 502.5 463.3C509.4 463.6 516.4 463.6 523.3 462.6C530.3 461.7 538.4 459.3 544.2 457.8C550.0 456.3 553.8 455.0 558.1 453.6C562.3 452.2 567.9 450.1 569.9 449.4"/><path d="M438.0 474.4C441.8 474.1 453.6 473.5 460.8 473.1C468.1 472.6 474.7 472.1 481.7 471.7C488.6 471.2 495.6 470.4 502.5 470.3C509.4 470.2 516.4 470.6 523.3 471.0C530.3 471.3 536.4 472.1 544.2 472.4C551.9 472.6 565.6 472.4 569.9 472.4"/><path d="M438.0 474.5C441.8 474.5 453.6 474.2 460.8 474.4C468.1 474.7 474.7 475.3 481.7 475.8C488.6 476.4 495.6 477.9 502.5 477.9C509.4 477.9 516.4 476.4 523.3 475.8C530.3 475.3 536.4 474.9 544.2 474.4C551.9 474.0 565.6 473.3 569.9 473.1"/><path d="M438.0 487.6C441.8 487.9 453.6 489.4 460.8 489.7C468.1 490.1 474.7 489.5 481.7 489.7C488.6 490.0 495.6 491.1 502.5 491.1C509.4 491.1 516.4 490.2 523.3 489.7C530.3 489.3 536.4 489.6 544.2 488.3C551.9 487.1 565.6 483.1 569.9 482.1"/><path d="M438.0 495.4C441.8 495.6 453.6 496.2 460.8 496.7C468.1 497.1 474.7 498.1 481.7 498.1C488.6 498.1 496.7 496.7 502.5 496.7C508.3 496.7 511.8 497.1 516.4 498.1C521.0 499.0 525.6 500.6 530.3 502.2C534.9 503.8 539.5 505.9 544.2 507.8C548.8 509.6 553.8 511.8 558.1 513.3C562.3 514.8 567.9 516.2 569.9 516.8"/><path d="M438.0 503.6C441.8 503.6 453.6 503.8 460.8 503.6C468.1 503.4 474.7 502.0 481.7 502.2C488.6 502.5 495.6 503.8 502.5 505.0C509.4 506.2 516.4 507.8 523.3 509.2C530.3 510.6 536.4 512.2 544.2 513.3C551.9 514.5 565.6 515.6 569.9 516.1"/><path d="M438.0 459.2C442.9 459.6 458.0 461.9 467.5 461.9C477.0 462.0 485.8 459.3 495.0 459.3C504.2 459.3 513.3 460.6 522.5 461.9C531.7 463.3 542.3 465.9 550.0 467.5C557.7 469.1 565.4 471.0 568.5 471.7"/></g>
<g clip-path="url(#cl)"></g>
<g clip-path="url(#cr)"></g>
</g>
<g clip-path="url(#p3)" fill="none" stroke-linejoin="round">
<path d="M726.0 196.0L727.5 222.5L730.0 231.2L728.8 235.0L731.2 243.0L727.5 250.0L726.0 261.0L726.0 288.8L728.8 301.2L727.5 306.2L735.0 316.2L733.8 321.2L740.0 326.2L733.8 331.9L741.2 341.2L748.0 348.0L760.0 354.4L740.0 361.0L727.0 367.0L726.0 376.0L728.0 382.0L727.0 388.0L728.0 393.0L726.0 400.0L726.0 440.8L728.3 450.0L733.3 461.7L747.5 470.0L738.3 472.5L730.0 476.7L736.7 482.5L730.0 495.0L726.0 518.3L726.0 548.4" stroke="#1f77b4" stroke-width="2.5"/>
<path d="M726.0 178.0L726.6 188.0L728.0 193.0L731.5 197.5L738.8 201.2L737.5 206.2L731.2 212.5L732.5 223.8L747.5 230.6L746.9 234.4L756.2 243.8L742.5 250.0L766.2 253.1L735.0 260.0L726.0 264.4L726.9 270.0L726.9 276.2L730.0 285.0L745.0 290.0L750.0 297.5L733.8 305.6L755.6 313.1L740.0 324.4L743.8 327.5L730.6 331.2L745.6 346.2L733.1 350.6L756.9 353.8L727.5 367.5L726.0 370.0L726.0 375.0L728.8 376.9L756.2 380.0L756.2 383.8L787.5 387.5L738.1 391.2L788.1 395.0L742.5 398.8L789.4 406.2L731.2 410.0L726.0 413.1L726.0 432.5L730.0 436.7L750.0 440.0L850.0 443.3L796.7 446.7L816.7 450.8L790.0 454.2L786.7 460.8L791.7 465.8L851.7 469.2L764.2 477.5L825.0 484.2L805.8 488.3L803.3 491.7L770.0 495.8L763.3 499.2L763.3 502.5L740.0 510.8L733.3 516.7L728.3 528.3L726.0 541.7L726.0 548.4" stroke="#ff7f0e" stroke-width="2.5"/>
<path d="M726.0 178.0L726.6 188.0L727.5 192.5L730.3 197.0L736.2 201.2L736.2 207.5L731.2 212.5L731.2 225.0L740.0 231.2L737.5 235.0L754.4 243.8L735.0 249.4L736.2 256.2L726.0 261.2L726.0 288.0L728.0 293.0L727.0 300.0L726.0 305.0L726.0 376.0L730.0 380.0L732.0 387.0L728.0 392.0L731.0 395.0L728.0 400.0L726.0 410.0L726.0 440.0L739.2 443.3L733.3 456.7L735.8 460.0L732.5 465.0L738.3 470.0L736.7 473.3L730.8 476.7L736.7 482.5L734.2 491.7L734.2 501.7L729.2 511.7L726.0 525.0L726.0 548.4" stroke="#2ca02c" stroke-width="2.5"/>
<path d="M726.0 176.0L726.4 185.0L727.4 189.5L729.5 193.7L734.5 196.6L740.8 198.7L750.6 200.6L750.0 203.8L736.3 212.5L736.0 222.5L740.0 226.0L763.8 231.2L761.2 234.4L787.5 241.2L788.8 244.4L753.8 250.0L778.8 253.8L761.0 257.5L727.5 264.4L726.9 270.0L727.0 276.2L730.0 285.0L745.0 290.0L753.8 300.0L736.2 305.6L763.8 313.8L751.2 323.8L761.9 328.1L737.5 331.9L765.0 346.2L742.5 350.0L789.4 353.8L727.5 367.5L726.0 370.0L726.0 375.0L728.8 376.9L761.2 380.6L787.5 387.5L738.1 391.2L788.1 395.0L742.5 398.8L789.4 406.2L731.2 410.0L726.0 413.1L726.0 432.5L730.0 436.7L750.0 440.0L880.0 443.3L810.0 447.5L828.3 450.8L800.0 455.0L808.3 465.8L880.0 468.7L775.0 477.5L844.2 484.2L820.0 491.7L778.3 496.7L775.0 502.5L745.0 510.0L733.3 516.7L728.3 528.3L726.0 541.7L726.0 548.4" stroke="#000" stroke-width="1.4" stroke-dasharray="1.5 1.7"/>
</g>
<g fill="none" stroke="#000" stroke-width="1.67" stroke-linejoin="miter"><rect x="120.10" y="156.20" width="449.70" height="414.50"/><rect x="586.20" y="156.20" width="35.20" height="414.50"/><rect x="638.10" y="156.20" width="71.10" height="414.50"/><rect x="726.10" y="156.20" width="138.10" height="414.50"/></g>
<text x="112" y="556.0" text-anchor="end" font-size="22">0</text><text x="112" y="481.4" text-anchor="end" font-size="22">1</text><text x="112" y="406.9" text-anchor="end" font-size="22">2</text><text x="112" y="332.3" text-anchor="end" font-size="22">3</text><text x="112" y="257.8" text-anchor="end" font-size="22">4</text><text x="112" y="183.2" text-anchor="end" font-size="22">5</text><text x="120.1" y="592" text-anchor="middle" font-size="22">Γ</text><text x="195.5" y="592" text-anchor="middle" font-size="22">M</text><text x="239.0" y="592" text-anchor="middle" font-size="22">K</text><text x="327.0" y="592" text-anchor="middle" font-size="22">Γ</text><text x="362.5" y="592" text-anchor="middle" font-size="22">A</text><text x="438.1" y="592" text-anchor="middle" font-size="22">L</text><text x="481.8" y="592" text-anchor="middle" font-size="22">H</text><text x="569.8" y="592" text-anchor="middle" font-size="22">A</text><text x="586.2" y="592" text-anchor="middle" font-size="22">L</text><text x="621.4" y="592" text-anchor="middle" font-size="22">M</text><text x="638.1" y="592" text-anchor="middle" font-size="22">H</text><text x="673.3" y="592" text-anchor="middle" font-size="22">K</text><text x="724.8" y="592" text-anchor="middle" font-size="22">0</text><text x="809.4" y="592" text-anchor="middle" font-size="22">25</text><text x="703.9" y="592" text-anchor="middle" font-size="22">H</text><text x="716.5" y="596.6" text-anchor="middle" font-size="14">2</text><text transform="translate(85.8,363) rotate(-90)" text-anchor="middle" font-size="22" textLength="164" lengthAdjust="spacingAndGlyphs">Frequency (THz)</text>
</svg></body></html>
